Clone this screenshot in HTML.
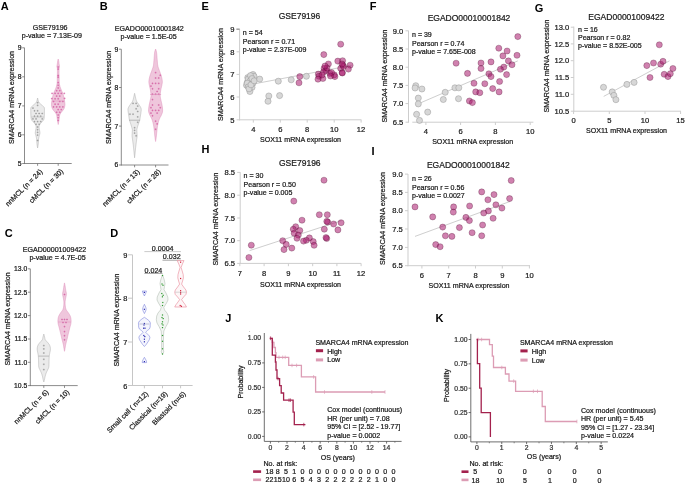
<!DOCTYPE html>
<html><head><meta charset="utf-8"><style>
html,body{margin:0;padding:0;background:#fff;}
svg{display:block;font-family:"Liberation Sans", sans-serif;will-change:transform;}
</style></head><body>
<svg width="685" height="484" viewBox="0 0 685 484">
<rect width="685" height="484" fill="#fff"/>
<text x="0.80" y="9.50" font-size="11" text-anchor="start" font-weight="bold" fill="#000">A</text>
<text x="99.80" y="9.50" font-size="11" text-anchor="start" font-weight="bold" fill="#000">B</text>
<text x="4.80" y="236.90" font-size="11" text-anchor="start" font-weight="bold" fill="#000">C</text>
<text x="110.20" y="237.30" font-size="11" text-anchor="start" font-weight="bold" fill="#000">D</text>
<text x="201.60" y="10.30" font-size="11" text-anchor="start" font-weight="bold" fill="#000">E</text>
<text x="369.80" y="10.30" font-size="11" text-anchor="start" font-weight="bold" fill="#000">F</text>
<text x="534.80" y="11.50" font-size="11" text-anchor="start" font-weight="bold" fill="#000">G</text>
<text x="201.40" y="153.10" font-size="11" text-anchor="start" font-weight="bold" fill="#000">H</text>
<text x="371.40" y="154.90" font-size="11" text-anchor="start" font-weight="bold" fill="#000">I</text>
<text x="225.20" y="321.90" font-size="11" text-anchor="start" font-weight="bold" fill="#000">J</text>
<text x="435.60" y="321.90" font-size="11" text-anchor="start" font-weight="bold" fill="#000">K</text>
<line x1="24.50" y1="47.80" x2="24.50" y2="163.90" stroke="#6e6e6e" stroke-width="0.8"/>
<line x1="24.10" y1="163.50" x2="71.70" y2="163.50" stroke="#6e6e6e" stroke-width="0.8"/>
<line x1="22.20" y1="47.80" x2="24.50" y2="47.80" stroke="#6e6e6e" stroke-width="0.8"/>
<text x="21.50" y="50.20" font-size="6.8" text-anchor="end" fill="#1a1a1a" stroke="#1a1a1a" stroke-width="0.22">9</text>
<line x1="22.20" y1="76.80" x2="24.50" y2="76.80" stroke="#6e6e6e" stroke-width="0.8"/>
<text x="21.50" y="79.20" font-size="6.8" text-anchor="end" fill="#1a1a1a" stroke="#1a1a1a" stroke-width="0.22">8</text>
<line x1="22.20" y1="105.90" x2="24.50" y2="105.90" stroke="#6e6e6e" stroke-width="0.8"/>
<text x="21.50" y="108.30" font-size="6.8" text-anchor="end" fill="#1a1a1a" stroke="#1a1a1a" stroke-width="0.22">7</text>
<line x1="22.20" y1="134.80" x2="24.50" y2="134.80" stroke="#6e6e6e" stroke-width="0.8"/>
<text x="21.50" y="137.20" font-size="6.8" text-anchor="end" fill="#1a1a1a" stroke="#1a1a1a" stroke-width="0.22">6</text>
<line x1="22.20" y1="163.50" x2="24.50" y2="163.50" stroke="#6e6e6e" stroke-width="0.8"/>
<text x="21.50" y="165.90" font-size="6.8" text-anchor="end" fill="#1a1a1a" stroke="#1a1a1a" stroke-width="0.22">5</text>
<line x1="37.60" y1="163.50" x2="37.60" y2="165.80" stroke="#6e6e6e" stroke-width="0.8"/>
<line x1="58.20" y1="163.50" x2="58.20" y2="165.80" stroke="#6e6e6e" stroke-width="0.8"/>
<text x="43.00" y="172.00" font-size="7.1" text-anchor="end" fill="#1a1a1a" stroke="#1a1a1a" stroke-width="0.22" transform="rotate(-45 43.00 172.00)">nnMCL (n = 24)</text>
<text x="63.80" y="171.80" font-size="7.1" text-anchor="end" fill="#1a1a1a" stroke="#1a1a1a" stroke-width="0.22" transform="rotate(-45 63.80 171.80)">cMCL (n = 30)</text>
<text x="14.40" y="97.50" font-size="7.1" text-anchor="middle" fill="#1a1a1a" stroke="#1a1a1a" stroke-width="0.22" transform="rotate(-90 14.40 97.50)">SMARCA4 mRNA expression</text>
<text x="50.20" y="29.80" font-size="7.1" text-anchor="middle" fill="#1a1a1a" stroke="#1a1a1a" stroke-width="0.22">GSE79196</text>
<text x="51.80" y="38.20" font-size="7.1" text-anchor="middle" fill="#1a1a1a" stroke="#1a1a1a" stroke-width="0.22">p-value = 7.13E-09</text>
<path d="M37.60,98.00 L37.66,98.28 L37.75,98.67 L37.85,99.12 L37.96,99.61 L38.08,100.08 L38.20,100.50 L38.31,100.87 L38.41,101.21 L38.52,101.55 L38.65,101.87 L38.81,102.19 L39.00,102.50 L39.24,102.80 L39.52,103.09 L39.83,103.36 L40.15,103.64 L40.48,103.91 L40.80,104.20 L41.13,104.49 L41.47,104.79 L41.82,105.09 L42.16,105.40 L42.49,105.70 L42.80,106.00 L43.10,106.27 L43.39,106.51 L43.67,106.75 L43.92,107.02 L44.14,107.36 L44.30,107.80 L44.40,108.36 L44.44,109.03 L44.45,109.76 L44.43,110.53 L44.41,111.28 L44.40,112.00 L44.40,112.68 L44.40,113.37 L44.39,114.04 L44.37,114.71 L44.34,115.36 L44.30,116.00 L44.26,116.62 L44.22,117.24 L44.17,117.84 L44.09,118.43 L43.97,118.98 L43.80,119.50 L43.55,119.97 L43.24,120.41 L42.89,120.81 L42.52,121.20 L42.15,121.59 L41.80,122.00 L41.45,122.42 L41.09,122.85 L40.72,123.28 L40.37,123.70 L40.06,124.11 L39.80,124.50 L39.60,124.86 L39.44,125.19 L39.31,125.50 L39.22,125.81 L39.15,126.14 L39.10,126.50 L39.08,126.89 L39.09,127.30 L39.12,127.72 L39.18,128.15 L39.24,128.58 L39.30,129.00 L39.37,129.42 L39.46,129.85 L39.56,130.28 L39.65,130.70 L39.74,131.11 L39.80,131.50 L39.85,131.86 L39.89,132.19 L39.93,132.50 L39.94,132.81 L39.93,133.14 L39.90,133.50 L39.83,133.88 L39.72,134.28 L39.59,134.69 L39.46,135.11 L39.32,135.55 L39.20,136.00 L39.09,136.47 L38.98,136.96 L38.87,137.47 L38.77,137.98 L38.68,138.49 L38.60,139.00 L38.54,139.50 L38.51,140.00 L38.48,140.50 L38.46,141.00 L38.43,141.50 L38.40,142.00 L38.36,142.50 L38.31,143.00 L38.27,143.50 L38.22,144.00 L38.16,144.50 L38.10,145.00 L38.02,145.53 L37.93,146.11 L37.83,146.69 L37.74,147.22 L37.66,147.67 L37.60,148.00 L37.60,148.00 L37.54,147.67 L37.46,147.22 L37.37,146.69 L37.27,146.11 L37.18,145.53 L37.10,145.00 L37.04,144.50 L36.98,144.00 L36.93,143.50 L36.89,143.00 L36.84,142.50 L36.80,142.00 L36.77,141.50 L36.74,141.00 L36.72,140.50 L36.69,140.00 L36.66,139.50 L36.60,139.00 L36.52,138.49 L36.43,137.98 L36.33,137.47 L36.22,136.96 L36.11,136.47 L36.00,136.00 L35.88,135.55 L35.74,135.11 L35.61,134.69 L35.48,134.28 L35.37,133.88 L35.30,133.50 L35.27,133.14 L35.26,132.81 L35.27,132.50 L35.31,132.19 L35.35,131.86 L35.40,131.50 L35.46,131.11 L35.55,130.70 L35.64,130.28 L35.74,129.85 L35.83,129.42 L35.90,129.00 L35.96,128.58 L36.02,128.15 L36.08,127.72 L36.11,127.30 L36.12,126.89 L36.10,126.50 L36.05,126.14 L35.98,125.81 L35.89,125.50 L35.76,125.19 L35.60,124.86 L35.40,124.50 L35.14,124.11 L34.83,123.70 L34.48,123.28 L34.11,122.85 L33.75,122.42 L33.40,122.00 L33.05,121.59 L32.68,121.20 L32.31,120.81 L31.96,120.41 L31.65,119.97 L31.40,119.50 L31.23,118.98 L31.11,118.43 L31.03,117.84 L30.98,117.24 L30.94,116.62 L30.90,116.00 L30.86,115.36 L30.83,114.71 L30.81,114.04 L30.80,113.37 L30.80,112.68 L30.80,112.00 L30.79,111.28 L30.77,110.53 L30.75,109.76 L30.76,109.03 L30.80,108.36 L30.90,107.80 L31.06,107.36 L31.28,107.02 L31.53,106.75 L31.81,106.51 L32.10,106.27 L32.40,106.00 L32.71,105.70 L33.04,105.40 L33.38,105.09 L33.73,104.79 L34.07,104.49 L34.40,104.20 L34.72,103.91 L35.05,103.64 L35.38,103.36 L35.68,103.09 L35.96,102.80 L36.20,102.50 L36.39,102.19 L36.55,101.87 L36.68,101.55 L36.79,101.21 L36.89,100.87 L37.00,100.50 L37.12,100.08 L37.24,99.61 L37.35,99.12 L37.45,98.67 L37.54,98.28 L37.60,98.00Z" fill="#ebebeb" stroke="#a9a9a9" stroke-width="0.5"/>
<path d="M58.20,59.00 L58.26,59.21 L58.33,59.48 L58.43,59.81 L58.52,60.19 L58.62,60.59 L58.70,61.00 L58.77,61.45 L58.84,61.94 L58.91,62.47 L58.97,63.00 L59.03,63.52 L59.10,64.00 L59.18,64.45 L59.26,64.89 L59.35,65.31 L59.43,65.72 L59.48,66.12 L59.50,66.50 L59.48,66.84 L59.41,67.15 L59.33,67.44 L59.24,67.74 L59.16,68.09 L59.10,68.50 L59.06,68.98 L59.04,69.50 L59.02,70.06 L59.01,70.67 L59.00,71.31 L59.00,72.00 L59.01,72.75 L59.02,73.56 L59.04,74.41 L59.06,75.28 L59.08,76.15 L59.10,77.00 L59.11,77.86 L59.13,78.76 L59.14,79.66 L59.15,80.52 L59.17,81.31 L59.20,82.00 L59.23,82.55 L59.26,82.97 L59.29,83.33 L59.33,83.66 L59.40,84.04 L59.50,84.50 L59.62,85.04 L59.77,85.62 L59.93,86.24 L60.12,86.89 L60.34,87.58 L60.60,88.30 L60.91,89.07 L61.29,89.90 L61.69,90.76 L62.09,91.64 L62.47,92.53 L62.80,93.40 L63.07,94.26 L63.32,95.13 L63.54,95.99 L63.74,96.86 L63.92,97.73 L64.10,98.60 L64.27,99.50 L64.44,100.43 L64.59,101.36 L64.73,102.25 L64.83,103.08 L64.90,103.80 L64.93,104.40 L64.93,104.90 L64.90,105.33 L64.85,105.71 L64.78,106.10 L64.70,106.50 L64.61,106.92 L64.50,107.33 L64.38,107.74 L64.24,108.13 L64.08,108.52 L63.90,108.90 L63.69,109.27 L63.46,109.63 L63.20,109.98 L62.93,110.32 L62.66,110.66 L62.40,111.00 L62.13,111.34 L61.85,111.67 L61.57,112.01 L61.29,112.34 L61.03,112.67 L60.80,113.00 L60.59,113.33 L60.40,113.66 L60.23,113.99 L60.07,114.32 L59.93,114.66 L59.80,115.00 L59.70,115.35 L59.62,115.70 L59.56,116.05 L59.51,116.41 L59.46,116.80 L59.40,117.20 L59.33,117.64 L59.27,118.10 L59.20,118.58 L59.13,119.07 L59.07,119.54 L59.00,120.00 L58.93,120.44 L58.87,120.87 L58.80,121.30 L58.73,121.71 L58.67,122.12 L58.60,122.50 L58.53,122.89 L58.45,123.28 L58.38,123.66 L58.30,124.00 L58.24,124.29 L58.20,124.50 L58.20,124.50 L58.16,124.29 L58.10,124.00 L58.03,123.66 L57.95,123.28 L57.87,122.89 L57.80,122.50 L57.73,122.12 L57.67,121.71 L57.60,121.30 L57.53,120.87 L57.47,120.44 L57.40,120.00 L57.33,119.54 L57.27,119.07 L57.20,118.58 L57.13,118.10 L57.07,117.64 L57.00,117.20 L56.94,116.80 L56.89,116.41 L56.84,116.05 L56.78,115.70 L56.70,115.35 L56.60,115.00 L56.48,114.66 L56.33,114.32 L56.18,113.99 L56.00,113.66 L55.81,113.33 L55.60,113.00 L55.37,112.67 L55.11,112.34 L54.83,112.01 L54.55,111.67 L54.27,111.34 L54.00,111.00 L53.74,110.66 L53.47,110.32 L53.20,109.98 L52.94,109.63 L52.71,109.27 L52.50,108.90 L52.32,108.52 L52.16,108.13 L52.02,107.74 L51.90,107.33 L51.79,106.92 L51.70,106.50 L51.62,106.10 L51.55,105.71 L51.50,105.33 L51.47,104.90 L51.47,104.40 L51.50,103.80 L51.57,103.08 L51.67,102.25 L51.81,101.36 L51.96,100.43 L52.13,99.50 L52.30,98.60 L52.48,97.73 L52.66,96.86 L52.86,95.99 L53.08,95.13 L53.33,94.26 L53.60,93.40 L53.93,92.53 L54.31,91.64 L54.71,90.76 L55.11,89.90 L55.49,89.07 L55.80,88.30 L56.06,87.58 L56.28,86.89 L56.47,86.24 L56.63,85.62 L56.78,85.04 L56.90,84.50 L57.00,84.04 L57.07,83.66 L57.11,83.33 L57.14,82.97 L57.17,82.55 L57.20,82.00 L57.23,81.31 L57.25,80.52 L57.26,79.66 L57.27,78.76 L57.29,77.86 L57.30,77.00 L57.32,76.15 L57.34,75.28 L57.36,74.41 L57.38,73.56 L57.39,72.75 L57.40,72.00 L57.40,71.31 L57.39,70.67 L57.38,70.06 L57.36,69.50 L57.34,68.98 L57.30,68.50 L57.24,68.09 L57.16,67.74 L57.07,67.44 L56.99,67.15 L56.92,66.84 L56.90,66.50 L56.92,66.12 L56.97,65.72 L57.05,65.31 L57.14,64.89 L57.22,64.45 L57.30,64.00 L57.37,63.52 L57.43,63.00 L57.49,62.47 L57.56,61.94 L57.63,61.45 L57.70,61.00 L57.78,60.59 L57.88,60.19 L57.98,59.81 L58.07,59.48 L58.14,59.21 L58.20,59.00Z" fill="#efc6dc" stroke="#dc8cb8" stroke-width="0.5"/>
<path d="M33.60,121.60h1.8M34.50,120.70v1.8" stroke="#8a8a8a" stroke-width="0.55"/>
<path d="M35.15,118.90h1.8M36.05,118.00v1.8" stroke="#8a8a8a" stroke-width="0.55"/>
<path d="M39.80,116.20h1.8M40.70,115.30v1.8" stroke="#8a8a8a" stroke-width="0.55"/>
<path d="M41.35,118.90h1.8M42.25,118.00v1.8" stroke="#8a8a8a" stroke-width="0.55"/>
<path d="M36.70,105.40h1.8M37.60,104.50v1.8" stroke="#8a8a8a" stroke-width="0.55"/>
<path d="M38.25,124.30h1.8M39.15,123.40v1.8" stroke="#8a8a8a" stroke-width="0.55"/>
<path d="M33.60,116.20h1.8M34.50,115.30v1.8" stroke="#8a8a8a" stroke-width="0.55"/>
<path d="M33.60,110.80h1.8M34.50,109.90v1.8" stroke="#8a8a8a" stroke-width="0.55"/>
<path d="M32.05,108.10h1.8M32.95,107.20v1.8" stroke="#8a8a8a" stroke-width="0.55"/>
<path d="M35.15,113.50h1.8M36.05,112.60v1.8" stroke="#8a8a8a" stroke-width="0.55"/>
<path d="M32.05,118.90h1.8M32.95,118.00v1.8" stroke="#8a8a8a" stroke-width="0.55"/>
<path d="M36.70,121.60h1.8M37.60,120.70v1.8" stroke="#8a8a8a" stroke-width="0.55"/>
<path d="M36.70,110.80h1.8M37.60,109.90v1.8" stroke="#8a8a8a" stroke-width="0.55"/>
<path d="M36.70,129.70h1.8M37.60,128.80v1.8" stroke="#8a8a8a" stroke-width="0.55"/>
<path d="M36.70,116.20h1.8M37.60,115.30v1.8" stroke="#8a8a8a" stroke-width="0.55"/>
<path d="M35.15,124.30h1.8M36.05,123.40v1.8" stroke="#8a8a8a" stroke-width="0.55"/>
<path d="M36.70,127.00h1.8M37.60,126.10v1.8" stroke="#8a8a8a" stroke-width="0.55"/>
<path d="M36.70,135.10h1.8M37.60,134.20v1.8" stroke="#8a8a8a" stroke-width="0.55"/>
<path d="M36.70,132.40h1.8M37.60,131.50v1.8" stroke="#8a8a8a" stroke-width="0.55"/>
<path d="M41.35,113.50h1.8M42.25,112.60v1.8" stroke="#8a8a8a" stroke-width="0.55"/>
<path d="M38.25,113.50h1.8M39.15,112.60v1.8" stroke="#8a8a8a" stroke-width="0.55"/>
<path d="M39.80,121.60h1.8M40.70,120.70v1.8" stroke="#8a8a8a" stroke-width="0.55"/>
<path d="M36.70,102.70h1.8M37.60,101.80v1.8" stroke="#8a8a8a" stroke-width="0.55"/>
<path d="M36.70,140.50h1.8M37.60,139.60v1.8" stroke="#8a8a8a" stroke-width="0.55"/>
<path d="M58.85,106.90h1.8M59.75,106.00v1.8" stroke="#d0509a" stroke-width="0.55"/>
<path d="M60.40,93.40h1.8M61.30,92.50v1.8" stroke="#d0509a" stroke-width="0.55"/>
<path d="M58.85,112.30h1.8M59.75,111.40v1.8" stroke="#d0509a" stroke-width="0.55"/>
<path d="M55.75,90.70h1.8M56.65,89.80v1.8" stroke="#d0509a" stroke-width="0.55"/>
<path d="M54.20,93.40h1.8M55.10,92.50v1.8" stroke="#d0509a" stroke-width="0.55"/>
<path d="M55.75,112.30h1.8M56.65,111.40v1.8" stroke="#d0509a" stroke-width="0.55"/>
<path d="M57.30,88.00h1.8M58.20,87.10v1.8" stroke="#d0509a" stroke-width="0.55"/>
<path d="M58.85,90.70h1.8M59.75,89.80v1.8" stroke="#d0509a" stroke-width="0.55"/>
<path d="M61.95,106.90h1.8M62.85,106.00v1.8" stroke="#d0509a" stroke-width="0.55"/>
<path d="M55.75,106.90h1.8M56.65,106.00v1.8" stroke="#d0509a" stroke-width="0.55"/>
<path d="M52.65,106.90h1.8M53.55,106.00v1.8" stroke="#d0509a" stroke-width="0.55"/>
<path d="M61.95,101.50h1.8M62.85,100.60v1.8" stroke="#d0509a" stroke-width="0.55"/>
<path d="M58.85,101.50h1.8M59.75,100.60v1.8" stroke="#d0509a" stroke-width="0.55"/>
<path d="M58.85,96.10h1.8M59.75,95.20v1.8" stroke="#d0509a" stroke-width="0.55"/>
<path d="M54.20,104.20h1.8M55.10,103.30v1.8" stroke="#d0509a" stroke-width="0.55"/>
<path d="M57.30,115.00h1.8M58.20,114.10v1.8" stroke="#d0509a" stroke-width="0.55"/>
<path d="M57.30,109.60h1.8M58.20,108.70v1.8" stroke="#d0509a" stroke-width="0.55"/>
<path d="M57.30,117.70h1.8M58.20,116.80v1.8" stroke="#d0509a" stroke-width="0.55"/>
<path d="M57.30,85.30h1.8M58.20,84.40v1.8" stroke="#d0509a" stroke-width="0.55"/>
<path d="M55.75,96.10h1.8M56.65,95.20v1.8" stroke="#d0509a" stroke-width="0.55"/>
<path d="M52.65,101.50h1.8M53.55,100.60v1.8" stroke="#d0509a" stroke-width="0.55"/>
<path d="M57.30,98.80h1.8M58.20,97.90v1.8" stroke="#d0509a" stroke-width="0.55"/>
<path d="M57.30,77.20h1.8M58.20,76.30v1.8" stroke="#d0509a" stroke-width="0.55"/>
<path d="M54.20,98.80h1.8M55.10,97.90v1.8" stroke="#d0509a" stroke-width="0.55"/>
<path d="M57.30,69.10h1.8M58.20,68.20v1.8" stroke="#d0509a" stroke-width="0.55"/>
<path d="M57.30,120.40h1.8M58.20,119.50v1.8" stroke="#d0509a" stroke-width="0.55"/>
<path d="M60.40,109.60h1.8M61.30,108.70v1.8" stroke="#d0509a" stroke-width="0.55"/>
<path d="M57.30,104.20h1.8M58.20,103.30v1.8" stroke="#d0509a" stroke-width="0.55"/>
<path d="M57.30,93.40h1.8M58.20,92.50v1.8" stroke="#d0509a" stroke-width="0.55"/>
<path d="M57.30,82.60h1.8M58.20,81.70v1.8" stroke="#d0509a" stroke-width="0.55"/>
<path d="M51.20,93.40h1.8M52.10,92.50v1.8" stroke="#d0509a" stroke-width="0.55"/>
<path d="M63.40,93.40h1.8M64.30,92.50v1.8" stroke="#d0509a" stroke-width="0.55"/>
<path d="M50.90,98.60h1.8M51.80,97.70v1.8" stroke="#d0509a" stroke-width="0.55"/>
<path d="M63.70,98.40h1.8M64.60,97.50v1.8" stroke="#d0509a" stroke-width="0.55"/>
<path d="M57.30,67.00h1.8M58.20,66.10v1.8" stroke="#d0509a" stroke-width="0.55"/>
<path d="M57.30,75.50h1.8M58.20,74.60v1.8" stroke="#d0509a" stroke-width="0.55"/>
<line x1="31.40" y1="117.00" x2="43.80" y2="117.00" stroke="#a9a9a9" stroke-width="0.5"/>
<line x1="52.00" y1="101.00" x2="64.40" y2="101.00" stroke="#dc8cb8" stroke-width="0.5"/>
<line x1="121.30" y1="49.20" x2="121.30" y2="165.40" stroke="#6e6e6e" stroke-width="0.8"/>
<line x1="120.90" y1="165.00" x2="168.50" y2="165.00" stroke="#6e6e6e" stroke-width="0.8"/>
<line x1="119.00" y1="49.20" x2="121.30" y2="49.20" stroke="#6e6e6e" stroke-width="0.8"/>
<text x="118.30" y="51.60" font-size="6.8" text-anchor="end" fill="#1a1a1a" stroke="#1a1a1a" stroke-width="0.22">9</text>
<line x1="119.00" y1="87.50" x2="121.30" y2="87.50" stroke="#6e6e6e" stroke-width="0.8"/>
<text x="118.30" y="89.90" font-size="6.8" text-anchor="end" fill="#1a1a1a" stroke="#1a1a1a" stroke-width="0.22">8</text>
<line x1="119.00" y1="126.10" x2="121.30" y2="126.10" stroke="#6e6e6e" stroke-width="0.8"/>
<text x="118.30" y="128.50" font-size="6.8" text-anchor="end" fill="#1a1a1a" stroke="#1a1a1a" stroke-width="0.22">7</text>
<line x1="119.00" y1="165.00" x2="121.30" y2="165.00" stroke="#6e6e6e" stroke-width="0.8"/>
<text x="118.30" y="167.40" font-size="6.8" text-anchor="end" fill="#1a1a1a" stroke="#1a1a1a" stroke-width="0.22">6</text>
<line x1="134.60" y1="165.00" x2="134.60" y2="167.30" stroke="#6e6e6e" stroke-width="0.8"/>
<line x1="155.60" y1="165.00" x2="155.60" y2="167.30" stroke="#6e6e6e" stroke-width="0.8"/>
<text x="140.10" y="172.20" font-size="7.1" text-anchor="end" fill="#1a1a1a" stroke="#1a1a1a" stroke-width="0.22" transform="rotate(-45 140.10 172.20)">nnMCL (n = 13)</text>
<text x="161.30" y="172.20" font-size="7.1" text-anchor="end" fill="#1a1a1a" stroke="#1a1a1a" stroke-width="0.22" transform="rotate(-45 161.30 172.20)">cMCL (n = 28)</text>
<text x="111.00" y="97.40" font-size="7.1" text-anchor="middle" fill="#1a1a1a" stroke="#1a1a1a" stroke-width="0.22" transform="rotate(-90 111.00 97.40)">SMARCA4 mRNA expression</text>
<text x="149.30" y="30.90" font-size="7.1" text-anchor="middle" fill="#1a1a1a" stroke="#1a1a1a" stroke-width="0.22">EGADO00010001842</text>
<text x="148.60" y="39.30" font-size="7.1" text-anchor="middle" fill="#1a1a1a" stroke="#1a1a1a" stroke-width="0.22">p-value = 1.5E-05</text>
<path d="M134.60,93.30 L134.66,93.59 L134.75,93.99 L134.86,94.46 L134.97,94.98 L135.09,95.50 L135.20,96.00 L135.31,96.49 L135.42,96.99 L135.53,97.51 L135.65,98.02 L135.77,98.52 L135.90,99.00 L136.03,99.46 L136.16,99.90 L136.29,100.34 L136.43,100.76 L136.60,101.18 L136.80,101.60 L137.04,102.01 L137.31,102.41 L137.60,102.81 L137.90,103.20 L138.21,103.60 L138.50,104.00 L138.79,104.41 L139.09,104.83 L139.39,105.24 L139.69,105.66 L139.96,106.08 L140.20,106.50 L140.42,106.91 L140.63,107.31 L140.82,107.72 L140.98,108.13 L141.11,108.55 L141.20,109.00 L141.24,109.46 L141.24,109.93 L141.20,110.41 L141.14,110.91 L141.07,111.44 L141.00,112.00 L140.92,112.61 L140.83,113.27 L140.72,113.95 L140.61,114.64 L140.50,115.33 L140.40,116.00 L140.30,116.65 L140.21,117.30 L140.12,117.95 L140.03,118.59 L139.92,119.20 L139.80,119.80 L139.66,120.37 L139.50,120.92 L139.32,121.45 L139.15,121.97 L138.97,122.49 L138.80,123.00 L138.63,123.50 L138.46,123.99 L138.29,124.47 L138.13,124.96 L137.96,125.46 L137.80,126.00 L137.63,126.58 L137.46,127.20 L137.28,127.83 L137.12,128.47 L136.99,129.10 L136.90,129.70 L136.86,130.27 L136.86,130.83 L136.89,131.38 L136.93,131.91 L136.97,132.45 L137.00,133.00 L137.02,133.55 L137.06,134.09 L137.09,134.63 L137.11,135.17 L137.12,135.73 L137.10,136.30 L137.05,136.88 L136.98,137.47 L136.89,138.08 L136.80,138.69 L136.70,139.33 L136.60,140.00 L136.50,140.70 L136.40,141.44 L136.30,142.20 L136.20,142.97 L136.10,143.74 L136.00,144.50 L135.91,145.26 L135.82,146.02 L135.74,146.78 L135.66,147.54 L135.58,148.28 L135.50,149.00 L135.43,149.69 L135.36,150.34 L135.30,150.98 L135.24,151.63 L135.17,152.29 L135.10,153.00 L135.02,153.81 L134.92,154.72 L134.82,155.65 L134.73,156.53 L134.66,157.27 L134.60,157.80 L134.60,157.80 L134.54,157.27 L134.47,156.53 L134.38,155.65 L134.28,154.72 L134.18,153.81 L134.10,153.00 L134.03,152.29 L133.96,151.63 L133.90,150.98 L133.84,150.34 L133.77,149.69 L133.70,149.00 L133.62,148.28 L133.54,147.54 L133.46,146.78 L133.38,146.02 L133.29,145.26 L133.20,144.50 L133.10,143.74 L133.00,142.97 L132.90,142.20 L132.80,141.44 L132.70,140.70 L132.60,140.00 L132.50,139.33 L132.40,138.69 L132.31,138.08 L132.22,137.47 L132.15,136.88 L132.10,136.30 L132.08,135.73 L132.09,135.17 L132.11,134.63 L132.14,134.09 L132.18,133.55 L132.20,133.00 L132.23,132.45 L132.27,131.91 L132.31,131.38 L132.34,130.83 L132.34,130.27 L132.30,129.70 L132.21,129.10 L132.08,128.47 L131.92,127.83 L131.74,127.20 L131.57,126.58 L131.40,126.00 L131.24,125.46 L131.07,124.96 L130.91,124.47 L130.74,123.99 L130.57,123.50 L130.40,123.00 L130.23,122.49 L130.05,121.97 L129.88,121.45 L129.70,120.92 L129.54,120.37 L129.40,119.80 L129.28,119.20 L129.17,118.59 L129.07,117.95 L128.99,117.30 L128.90,116.65 L128.80,116.00 L128.70,115.33 L128.59,114.64 L128.47,113.95 L128.37,113.27 L128.28,112.61 L128.20,112.00 L128.13,111.44 L128.06,110.91 L128.00,110.41 L127.96,109.93 L127.96,109.46 L128.00,109.00 L128.09,108.55 L128.22,108.13 L128.38,107.72 L128.57,107.31 L128.78,106.91 L129.00,106.50 L129.24,106.08 L129.51,105.66 L129.81,105.24 L130.11,104.83 L130.41,104.41 L130.70,104.00 L130.99,103.60 L131.30,103.20 L131.60,102.81 L131.89,102.41 L132.16,102.01 L132.40,101.60 L132.60,101.18 L132.77,100.76 L132.91,100.34 L133.04,99.90 L133.17,99.46 L133.30,99.00 L133.43,98.52 L133.55,98.02 L133.67,97.51 L133.78,96.99 L133.89,96.49 L134.00,96.00 L134.11,95.50 L134.23,94.98 L134.34,94.46 L134.45,93.99 L134.54,93.59 L134.60,93.30Z" fill="#ebebeb" stroke="#a9a9a9" stroke-width="0.5"/>
<path d="M155.60,49.00 L155.70,49.31 L155.85,49.74 L156.03,50.25 L156.20,50.81 L156.37,51.41 L156.50,52.00 L156.60,52.60 L156.67,53.22 L156.73,53.88 L156.79,54.56 L156.84,55.26 L156.90,56.00 L156.97,56.78 L157.03,57.60 L157.09,58.46 L157.16,59.32 L157.23,60.17 L157.30,61.00 L157.37,61.82 L157.44,62.64 L157.51,63.46 L157.59,64.25 L157.69,65.00 L157.80,65.70 L157.93,66.33 L158.09,66.90 L158.25,67.43 L158.43,67.94 L158.61,68.45 L158.80,69.00 L159.00,69.57 L159.21,70.15 L159.44,70.74 L159.66,71.33 L159.89,71.91 L160.10,72.50 L160.31,73.09 L160.53,73.69 L160.74,74.28 L160.94,74.87 L161.13,75.45 L161.30,76.00 L161.45,76.53 L161.59,77.03 L161.71,77.52 L161.81,78.00 L161.91,78.49 L162.00,79.00 L162.08,79.51 L162.16,80.03 L162.23,80.55 L162.28,81.08 L162.31,81.63 L162.30,82.20 L162.26,82.80 L162.18,83.41 L162.07,84.05 L161.96,84.70 L161.83,85.35 L161.70,86.00 L161.56,86.64 L161.41,87.26 L161.25,87.89 L161.09,88.54 L160.94,89.24 L160.80,90.00 L160.67,90.85 L160.53,91.79 L160.40,92.78 L160.29,93.76 L160.22,94.72 L160.20,95.60 L160.24,96.40 L160.32,97.13 L160.44,97.84 L160.59,98.53 L160.75,99.25 L160.90,100.00 L161.07,100.79 L161.26,101.59 L161.46,102.40 L161.66,103.24 L161.84,104.10 L162.00,105.00 L162.15,105.97 L162.30,107.00 L162.44,108.06 L162.55,109.11 L162.61,110.10 L162.60,111.00 L162.51,111.79 L162.36,112.50 L162.15,113.16 L161.91,113.78 L161.66,114.39 L161.40,115.00 L161.13,115.61 L160.82,116.20 L160.50,116.78 L160.18,117.35 L159.87,117.92 L159.60,118.50 L159.36,119.08 L159.14,119.66 L158.94,120.24 L158.75,120.83 L158.57,121.41 L158.40,122.00 L158.24,122.58 L158.10,123.16 L157.96,123.74 L157.84,124.34 L157.72,124.95 L157.60,125.60 L157.49,126.28 L157.38,126.99 L157.28,127.71 L157.19,128.46 L157.09,129.22 L157.00,130.00 L156.91,130.81 L156.83,131.66 L156.74,132.53 L156.66,133.39 L156.58,134.22 L156.50,135.00 L156.42,135.74 L156.33,136.46 L156.24,137.16 L156.16,137.81 L156.08,138.43 L156.00,139.00 L155.92,139.53 L155.84,140.04 L155.77,140.50 L155.70,140.91 L155.64,141.25 L155.60,141.50 L155.60,141.50 L155.56,141.25 L155.50,140.91 L155.43,140.50 L155.36,140.04 L155.28,139.53 L155.20,139.00 L155.12,138.43 L155.04,137.81 L154.96,137.16 L154.87,136.46 L154.78,135.74 L154.70,135.00 L154.62,134.22 L154.54,133.39 L154.46,132.53 L154.37,131.66 L154.29,130.81 L154.20,130.00 L154.11,129.22 L154.01,128.46 L153.92,127.71 L153.82,126.99 L153.71,126.28 L153.60,125.60 L153.48,124.95 L153.36,124.34 L153.24,123.74 L153.10,123.16 L152.96,122.58 L152.80,122.00 L152.63,121.41 L152.45,120.83 L152.26,120.24 L152.06,119.66 L151.84,119.08 L151.60,118.50 L151.33,117.92 L151.02,117.35 L150.70,116.78 L150.38,116.20 L150.07,115.61 L149.80,115.00 L149.54,114.39 L149.29,113.78 L149.05,113.16 L148.84,112.50 L148.69,111.79 L148.60,111.00 L148.59,110.10 L148.65,109.11 L148.76,108.06 L148.90,107.00 L149.05,105.97 L149.20,105.00 L149.36,104.10 L149.54,103.24 L149.74,102.40 L149.94,101.59 L150.13,100.79 L150.30,100.00 L150.45,99.25 L150.61,98.53 L150.76,97.84 L150.88,97.13 L150.96,96.40 L151.00,95.60 L150.98,94.72 L150.91,93.76 L150.80,92.78 L150.67,91.79 L150.53,90.85 L150.40,90.00 L150.26,89.24 L150.11,88.54 L149.95,87.89 L149.79,87.26 L149.64,86.64 L149.50,86.00 L149.37,85.35 L149.24,84.70 L149.12,84.05 L149.02,83.41 L148.94,82.80 L148.90,82.20 L148.89,81.63 L148.92,81.08 L148.97,80.55 L149.04,80.03 L149.12,79.51 L149.20,79.00 L149.29,78.49 L149.39,78.00 L149.49,77.52 L149.61,77.03 L149.75,76.53 L149.90,76.00 L150.07,75.45 L150.26,74.87 L150.46,74.28 L150.67,73.69 L150.89,73.09 L151.10,72.50 L151.31,71.91 L151.54,71.33 L151.76,70.74 L151.99,70.15 L152.20,69.57 L152.40,69.00 L152.59,68.45 L152.77,67.94 L152.95,67.43 L153.11,66.90 L153.27,66.33 L153.40,65.70 L153.51,65.00 L153.61,64.25 L153.69,63.46 L153.76,62.64 L153.83,61.82 L153.90,61.00 L153.97,60.17 L154.04,59.32 L154.11,58.46 L154.17,57.60 L154.23,56.78 L154.30,56.00 L154.36,55.26 L154.41,54.56 L154.47,53.88 L154.53,53.22 L154.60,52.60 L154.70,52.00 L154.83,51.41 L155.00,50.81 L155.17,50.25 L155.35,49.74 L155.50,49.31 L155.60,49.00Z" fill="#efc6dc" stroke="#dc8cb8" stroke-width="0.5"/>
<path d="M136.80,116.90h1.8M137.70,116.00v1.8" stroke="#8a8a8a" stroke-width="0.55"/>
<path d="M129.05,114.20h1.8M129.95,113.30v1.8" stroke="#8a8a8a" stroke-width="0.55"/>
<path d="M135.25,135.80h1.8M136.15,134.90v1.8" stroke="#8a8a8a" stroke-width="0.55"/>
<path d="M133.70,130.40h1.8M134.60,129.50v1.8" stroke="#8a8a8a" stroke-width="0.55"/>
<path d="M133.70,127.70h1.8M134.60,126.80v1.8" stroke="#8a8a8a" stroke-width="0.55"/>
<path d="M135.25,103.40h1.8M136.15,102.50v1.8" stroke="#8a8a8a" stroke-width="0.55"/>
<path d="M133.70,133.10h1.8M134.60,132.20v1.8" stroke="#8a8a8a" stroke-width="0.55"/>
<path d="M136.80,122.30h1.8M137.70,121.40v1.8" stroke="#8a8a8a" stroke-width="0.55"/>
<path d="M132.15,103.40h1.8M133.05,102.50v1.8" stroke="#8a8a8a" stroke-width="0.55"/>
<path d="M132.15,114.20h1.8M133.05,113.30v1.8" stroke="#8a8a8a" stroke-width="0.55"/>
<path d="M136.80,111.50h1.8M137.70,110.60v1.8" stroke="#8a8a8a" stroke-width="0.55"/>
<path d="M135.25,108.80h1.8M136.15,107.90v1.8" stroke="#8a8a8a" stroke-width="0.55"/>
<path d="M136.80,106.10h1.8M137.70,105.20v1.8" stroke="#8a8a8a" stroke-width="0.55"/>
<path d="M151.60,94.20h1.8M152.50,93.30v1.8" stroke="#d0509a" stroke-width="0.55"/>
<path d="M157.80,78.00h1.8M158.70,77.10v1.8" stroke="#d0509a" stroke-width="0.55"/>
<path d="M151.60,83.40h1.8M152.50,82.50v1.8" stroke="#d0509a" stroke-width="0.55"/>
<path d="M154.70,110.40h1.8M155.60,109.50v1.8" stroke="#d0509a" stroke-width="0.55"/>
<path d="M154.70,78.00h1.8M155.60,77.10v1.8" stroke="#d0509a" stroke-width="0.55"/>
<path d="M151.60,99.60h1.8M152.50,98.70v1.8" stroke="#d0509a" stroke-width="0.55"/>
<path d="M157.80,83.40h1.8M158.70,82.50v1.8" stroke="#d0509a" stroke-width="0.55"/>
<path d="M156.25,113.10h1.8M157.15,112.20v1.8" stroke="#d0509a" stroke-width="0.55"/>
<path d="M151.60,115.80h1.8M152.50,114.90v1.8" stroke="#d0509a" stroke-width="0.55"/>
<path d="M150.05,113.10h1.8M150.95,112.20v1.8" stroke="#d0509a" stroke-width="0.55"/>
<path d="M157.80,105.00h1.8M158.70,104.10v1.8" stroke="#d0509a" stroke-width="0.55"/>
<path d="M157.80,110.40h1.8M158.70,109.50v1.8" stroke="#d0509a" stroke-width="0.55"/>
<path d="M150.05,86.10h1.8M150.95,85.20v1.8" stroke="#d0509a" stroke-width="0.55"/>
<path d="M156.25,123.90h1.8M157.15,123.00v1.8" stroke="#d0509a" stroke-width="0.55"/>
<path d="M150.05,107.70h1.8M150.95,106.80v1.8" stroke="#d0509a" stroke-width="0.55"/>
<path d="M154.70,72.60h1.8M155.60,71.70v1.8" stroke="#d0509a" stroke-width="0.55"/>
<path d="M154.70,129.30h1.8M155.60,128.40v1.8" stroke="#d0509a" stroke-width="0.55"/>
<path d="M157.80,88.80h1.8M158.70,87.90v1.8" stroke="#d0509a" stroke-width="0.55"/>
<path d="M154.70,121.20h1.8M155.60,120.30v1.8" stroke="#d0509a" stroke-width="0.55"/>
<path d="M159.35,107.70h1.8M160.25,106.80v1.8" stroke="#d0509a" stroke-width="0.55"/>
<path d="M159.35,75.30h1.8M160.25,74.40v1.8" stroke="#d0509a" stroke-width="0.55"/>
<path d="M154.70,94.20h1.8M155.60,93.30v1.8" stroke="#d0509a" stroke-width="0.55"/>
<path d="M157.80,94.20h1.8M158.70,93.30v1.8" stroke="#d0509a" stroke-width="0.55"/>
<path d="M151.60,88.80h1.8M152.50,87.90v1.8" stroke="#d0509a" stroke-width="0.55"/>
<path d="M154.70,83.40h1.8M155.60,82.50v1.8" stroke="#d0509a" stroke-width="0.55"/>
<path d="M151.60,110.40h1.8M152.50,109.50v1.8" stroke="#d0509a" stroke-width="0.55"/>
<path d="M151.60,105.00h1.8M152.50,104.10v1.8" stroke="#d0509a" stroke-width="0.55"/>
<path d="M156.25,91.50h1.8M157.15,90.60v1.8" stroke="#d0509a" stroke-width="0.55"/>
<line x1="129.10" y1="120.20" x2="140.10" y2="120.20" stroke="#999" stroke-width="0.6"/>
<line x1="150.10" y1="94.50" x2="161.10" y2="94.50" stroke="#dc8cb8" stroke-width="0.6"/>
<line x1="30.30" y1="268.80" x2="30.30" y2="386.00" stroke="#6e6e6e" stroke-width="0.8"/>
<line x1="29.90" y1="385.60" x2="77.70" y2="385.60" stroke="#6e6e6e" stroke-width="0.8"/>
<line x1="28.00" y1="268.80" x2="30.30" y2="268.80" stroke="#6e6e6e" stroke-width="0.8"/>
<text x="27.30" y="271.20" font-size="6.8" text-anchor="end" fill="#1a1a1a" stroke="#1a1a1a" stroke-width="0.22">13.0</text>
<line x1="28.00" y1="292.20" x2="30.30" y2="292.20" stroke="#6e6e6e" stroke-width="0.8"/>
<text x="27.30" y="294.60" font-size="6.8" text-anchor="end" fill="#1a1a1a" stroke="#1a1a1a" stroke-width="0.22">12.5</text>
<line x1="28.00" y1="315.60" x2="30.30" y2="315.60" stroke="#6e6e6e" stroke-width="0.8"/>
<text x="27.30" y="318.00" font-size="6.8" text-anchor="end" fill="#1a1a1a" stroke="#1a1a1a" stroke-width="0.22">12.0</text>
<line x1="28.00" y1="339.00" x2="30.30" y2="339.00" stroke="#6e6e6e" stroke-width="0.8"/>
<text x="27.30" y="341.40" font-size="6.8" text-anchor="end" fill="#1a1a1a" stroke="#1a1a1a" stroke-width="0.22">11.5</text>
<line x1="28.00" y1="362.30" x2="30.30" y2="362.30" stroke="#6e6e6e" stroke-width="0.8"/>
<text x="27.30" y="364.70" font-size="6.8" text-anchor="end" fill="#1a1a1a" stroke="#1a1a1a" stroke-width="0.22">11.0</text>
<line x1="28.00" y1="385.60" x2="30.30" y2="385.60" stroke="#6e6e6e" stroke-width="0.8"/>
<text x="27.30" y="388.00" font-size="6.8" text-anchor="end" fill="#1a1a1a" stroke="#1a1a1a" stroke-width="0.22">10.5</text>
<line x1="43.80" y1="385.60" x2="43.80" y2="387.90" stroke="#6e6e6e" stroke-width="0.8"/>
<line x1="64.50" y1="385.60" x2="64.50" y2="387.90" stroke="#6e6e6e" stroke-width="0.8"/>
<text x="48.90" y="392.50" font-size="7.1" text-anchor="end" fill="#1a1a1a" stroke="#1a1a1a" stroke-width="0.22" transform="rotate(-45 48.90 392.50)">nnMCL (n = 6)</text>
<text x="69.70" y="392.50" font-size="7.1" text-anchor="end" fill="#1a1a1a" stroke="#1a1a1a" stroke-width="0.22" transform="rotate(-45 69.70 392.50)">cMCL (n = 10)</text>
<text x="10.00" y="318.90" font-size="7.1" text-anchor="middle" fill="#1a1a1a" stroke="#1a1a1a" stroke-width="0.22" transform="rotate(-90 10.00 318.90)">SMARCA4 mRNA expression</text>
<text x="54.50" y="251.60" font-size="7.1" text-anchor="middle" fill="#1a1a1a" stroke="#1a1a1a" stroke-width="0.22">EGAD00001009422</text>
<text x="57.50" y="260.00" font-size="7.1" text-anchor="middle" fill="#1a1a1a" stroke="#1a1a1a" stroke-width="0.22">p-value = 4.7E-05</text>
<path d="M43.80,334.00 L43.89,334.33 L44.01,334.79 L44.16,335.32 L44.31,335.90 L44.46,336.48 L44.60,337.00 L44.71,337.49 L44.79,337.97 L44.88,338.45 L44.97,338.92 L45.11,339.37 L45.30,339.80 L45.56,340.19 L45.87,340.56 L46.21,340.90 L46.58,341.24 L46.95,341.61 L47.30,342.00 L47.66,342.43 L48.04,342.89 L48.42,343.37 L48.79,343.85 L49.12,344.33 L49.40,344.80 L49.63,345.25 L49.82,345.70 L49.98,346.14 L50.11,346.58 L50.22,347.03 L50.30,347.50 L50.36,347.98 L50.39,348.48 L50.39,348.98 L50.38,349.49 L50.35,350.00 L50.30,350.50 L50.23,350.99 L50.14,351.48 L50.03,351.97 L49.91,352.46 L49.80,352.97 L49.70,353.50 L49.61,354.04 L49.51,354.57 L49.42,355.12 L49.34,355.70 L49.26,356.32 L49.20,357.00 L49.15,357.75 L49.11,358.56 L49.08,359.41 L49.06,360.28 L49.03,361.15 L49.00,362.00 L48.98,362.86 L48.97,363.74 L48.96,364.62 L48.94,365.48 L48.89,366.28 L48.80,367.00 L48.66,367.62 L48.48,368.15 L48.27,368.62 L48.05,369.07 L47.82,369.52 L47.60,370.00 L47.37,370.50 L47.13,370.99 L46.89,371.49 L46.64,371.99 L46.41,372.49 L46.20,373.00 L46.01,373.53 L45.82,374.07 L45.65,374.61 L45.49,375.16 L45.34,375.69 L45.20,376.20 L45.08,376.69 L44.98,377.16 L44.89,377.61 L44.80,378.07 L44.71,378.53 L44.60,379.00 L44.47,379.52 L44.32,380.10 L44.16,380.68 L44.01,381.21 L43.89,381.67 L43.80,382.00 L43.80,382.00 L43.71,381.67 L43.59,381.21 L43.44,380.68 L43.28,380.10 L43.13,379.52 L43.00,379.00 L42.89,378.53 L42.80,378.07 L42.71,377.61 L42.62,377.16 L42.52,376.69 L42.40,376.20 L42.26,375.69 L42.11,375.16 L41.95,374.61 L41.78,374.07 L41.59,373.53 L41.40,373.00 L41.19,372.49 L40.96,371.99 L40.71,371.49 L40.47,370.99 L40.23,370.50 L40.00,370.00 L39.78,369.52 L39.55,369.07 L39.32,368.62 L39.12,368.15 L38.94,367.62 L38.80,367.00 L38.71,366.28 L38.66,365.48 L38.64,364.62 L38.63,363.74 L38.62,362.86 L38.60,362.00 L38.57,361.15 L38.54,360.28 L38.52,359.41 L38.49,358.56 L38.45,357.75 L38.40,357.00 L38.34,356.32 L38.26,355.70 L38.17,355.12 L38.09,354.57 L37.99,354.04 L37.90,353.50 L37.80,352.97 L37.69,352.46 L37.57,351.97 L37.46,351.48 L37.37,350.99 L37.30,350.50 L37.25,350.00 L37.22,349.49 L37.21,348.98 L37.21,348.48 L37.24,347.98 L37.30,347.50 L37.38,347.03 L37.49,346.58 L37.62,346.14 L37.78,345.70 L37.97,345.25 L38.20,344.80 L38.48,344.33 L38.81,343.85 L39.18,343.37 L39.56,342.89 L39.94,342.43 L40.30,342.00 L40.65,341.61 L41.02,341.24 L41.39,340.90 L41.73,340.56 L42.04,340.19 L42.30,339.80 L42.49,339.37 L42.63,338.92 L42.72,338.45 L42.81,337.97 L42.89,337.49 L43.00,337.00 L43.14,336.48 L43.29,335.90 L43.44,335.32 L43.59,334.79 L43.71,334.33 L43.80,334.00Z" fill="#ebebeb" stroke="#a9a9a9" stroke-width="0.5"/>
<path d="M64.50,282.90 L64.57,283.23 L64.66,283.67 L64.76,284.20 L64.88,284.79 L64.99,285.40 L65.10,286.00 L65.20,286.61 L65.30,287.27 L65.39,287.94 L65.49,288.63 L65.59,289.32 L65.70,290.00 L65.83,290.67 L65.98,291.33 L66.13,292.00 L66.27,292.67 L66.36,293.33 L66.40,294.00 L66.36,294.67 L66.27,295.33 L66.13,296.00 L65.98,296.67 L65.83,297.33 L65.70,298.00 L65.58,298.67 L65.46,299.33 L65.34,300.00 L65.24,300.67 L65.15,301.33 L65.10,302.00 L65.08,302.68 L65.09,303.37 L65.12,304.06 L65.17,304.74 L65.23,305.39 L65.30,306.00 L65.37,306.57 L65.45,307.11 L65.54,307.62 L65.65,308.11 L65.77,308.57 L65.90,309.00 L66.05,309.39 L66.21,309.74 L66.39,310.06 L66.59,310.37 L66.79,310.68 L67.00,311.00 L67.23,311.33 L67.47,311.65 L67.72,311.97 L67.99,312.30 L68.25,312.64 L68.50,313.00 L68.76,313.39 L69.03,313.80 L69.29,314.22 L69.55,314.65 L69.79,315.08 L70.00,315.50 L70.18,315.91 L70.34,316.31 L70.47,316.72 L70.60,317.13 L70.70,317.55 L70.80,318.00 L70.89,318.47 L70.96,318.96 L71.02,319.47 L71.06,319.98 L71.09,320.49 L71.10,321.00 L71.09,321.50 L71.06,322.00 L71.02,322.50 L70.96,323.00 L70.89,323.50 L70.80,324.00 L70.70,324.49 L70.58,324.96 L70.44,325.44 L70.30,325.93 L70.15,326.44 L70.00,327.00 L69.84,327.61 L69.68,328.26 L69.51,328.94 L69.34,329.63 L69.17,330.32 L69.00,331.00 L68.83,331.67 L68.66,332.33 L68.49,333.00 L68.33,333.67 L68.16,334.33 L68.00,335.00 L67.84,335.68 L67.69,336.37 L67.54,337.06 L67.39,337.74 L67.24,338.39 L67.10,339.00 L66.96,339.56 L66.82,340.07 L66.69,340.56 L66.56,341.04 L66.43,341.51 L66.30,342.00 L66.18,342.50 L66.05,343.00 L65.93,343.50 L65.81,344.00 L65.70,344.50 L65.60,345.00 L65.51,345.50 L65.42,345.99 L65.34,346.48 L65.27,346.98 L65.19,347.48 L65.10,348.00 L65.00,348.57 L64.89,349.20 L64.77,349.84 L64.66,350.43 L64.57,350.94 L64.50,351.30 L64.50,351.30 L64.43,350.94 L64.34,350.43 L64.23,349.84 L64.11,349.20 L64.00,348.57 L63.90,348.00 L63.81,347.48 L63.73,346.98 L63.66,346.48 L63.58,345.99 L63.49,345.50 L63.40,345.00 L63.30,344.50 L63.19,344.00 L63.07,343.50 L62.95,343.00 L62.82,342.50 L62.70,342.00 L62.57,341.51 L62.44,341.04 L62.31,340.56 L62.18,340.07 L62.04,339.56 L61.90,339.00 L61.76,338.39 L61.61,337.74 L61.46,337.06 L61.31,336.37 L61.16,335.68 L61.00,335.00 L60.84,334.33 L60.67,333.67 L60.51,333.00 L60.34,332.33 L60.17,331.67 L60.00,331.00 L59.83,330.32 L59.66,329.63 L59.49,328.94 L59.32,328.26 L59.16,327.61 L59.00,327.00 L58.85,326.44 L58.70,325.93 L58.56,325.44 L58.42,324.96 L58.30,324.49 L58.20,324.00 L58.11,323.50 L58.04,323.00 L57.98,322.50 L57.94,322.00 L57.91,321.50 L57.90,321.00 L57.91,320.49 L57.94,319.98 L57.98,319.47 L58.04,318.96 L58.11,318.47 L58.20,318.00 L58.30,317.55 L58.40,317.13 L58.52,316.72 L58.66,316.31 L58.82,315.91 L59.00,315.50 L59.21,315.08 L59.45,314.65 L59.71,314.22 L59.97,313.80 L60.24,313.39 L60.50,313.00 L60.75,312.64 L61.01,312.30 L61.27,311.97 L61.53,311.65 L61.77,311.33 L62.00,311.00 L62.21,310.68 L62.41,310.37 L62.61,310.06 L62.79,309.74 L62.95,309.39 L63.10,309.00 L63.23,308.57 L63.35,308.11 L63.46,307.62 L63.55,307.11 L63.63,306.57 L63.70,306.00 L63.77,305.39 L63.83,304.74 L63.88,304.06 L63.91,303.37 L63.92,302.68 L63.90,302.00 L63.85,301.33 L63.76,300.67 L63.66,300.00 L63.54,299.33 L63.42,298.67 L63.30,298.00 L63.17,297.33 L63.02,296.67 L62.87,296.00 L62.73,295.33 L62.64,294.67 L62.60,294.00 L62.64,293.33 L62.73,292.67 L62.87,292.00 L63.02,291.33 L63.17,290.67 L63.30,290.00 L63.41,289.32 L63.51,288.63 L63.61,287.94 L63.70,287.27 L63.80,286.61 L63.90,286.00 L64.01,285.40 L64.12,284.79 L64.24,284.20 L64.34,283.67 L64.43,283.23 L64.50,282.90Z" fill="#efc6dc" stroke="#dc8cb8" stroke-width="0.5"/>
<path d="M42.90,345.60h1.8M43.80,344.70v1.8" stroke="#8a8a8a" stroke-width="0.55"/>
<path d="M42.90,348.90h1.8M43.80,348.00v1.8" stroke="#8a8a8a" stroke-width="0.55"/>
<path d="M42.90,353.00h1.8M43.80,352.10v1.8" stroke="#8a8a8a" stroke-width="0.55"/>
<path d="M42.90,359.30h1.8M43.80,358.40v1.8" stroke="#8a8a8a" stroke-width="0.55"/>
<path d="M42.90,364.30h1.8M43.80,363.40v1.8" stroke="#8a8a8a" stroke-width="0.55"/>
<path d="M42.90,369.60h1.8M43.80,368.70v1.8" stroke="#8a8a8a" stroke-width="0.55"/>
<path d="M63.60,294.50h1.8M64.50,293.60v1.8" stroke="#d0509a" stroke-width="0.55"/>
<path d="M61.10,319.50h1.8M62.00,318.60v1.8" stroke="#d0509a" stroke-width="0.55"/>
<path d="M63.60,319.50h1.8M64.50,318.60v1.8" stroke="#d0509a" stroke-width="0.55"/>
<path d="M66.10,319.50h1.8M67.00,318.60v1.8" stroke="#d0509a" stroke-width="0.55"/>
<path d="M62.10,322.50h1.8M63.00,321.60v1.8" stroke="#d0509a" stroke-width="0.55"/>
<path d="M65.10,322.50h1.8M66.00,321.60v1.8" stroke="#d0509a" stroke-width="0.55"/>
<path d="M63.60,326.60h1.8M64.50,325.70v1.8" stroke="#d0509a" stroke-width="0.55"/>
<path d="M63.60,331.60h1.8M64.50,330.70v1.8" stroke="#d0509a" stroke-width="0.55"/>
<path d="M63.60,335.70h1.8M64.50,334.80v1.8" stroke="#d0509a" stroke-width="0.55"/>
<path d="M63.60,339.80h1.8M64.50,338.90v1.8" stroke="#d0509a" stroke-width="0.55"/>
<line x1="38.50" y1="356.10" x2="49.10" y2="356.10" stroke="#999" stroke-width="0.6"/>
<line x1="58.30" y1="322.00" x2="70.70" y2="322.00" stroke="#dc8cb8" stroke-width="0.5"/>
<line x1="132.50" y1="254.80" x2="132.50" y2="385.50" stroke="#c6c6c6" stroke-width="1"/>
<line x1="132.00" y1="385.50" x2="192.60" y2="385.50" stroke="#c6c6c6" stroke-width="1"/>
<line x1="128.00" y1="254.80" x2="132.50" y2="254.80" stroke="#c6c6c6" stroke-width="1"/>
<text x="127.40" y="257.90" font-size="7.4" text-anchor="end" fill="#222" stroke="#222" stroke-width="0.22">9</text>
<line x1="128.00" y1="298.20" x2="132.50" y2="298.20" stroke="#c6c6c6" stroke-width="1"/>
<text x="127.40" y="301.30" font-size="7.4" text-anchor="end" fill="#222" stroke="#222" stroke-width="0.22">8</text>
<line x1="128.00" y1="342.00" x2="132.50" y2="342.00" stroke="#c6c6c6" stroke-width="1"/>
<text x="127.40" y="345.10" font-size="7.4" text-anchor="end" fill="#222" stroke="#222" stroke-width="0.22">7</text>
<line x1="128.00" y1="385.50" x2="132.50" y2="385.50" stroke="#c6c6c6" stroke-width="1"/>
<text x="127.40" y="388.60" font-size="7.4" text-anchor="end" fill="#222" stroke="#222" stroke-width="0.22">6</text>
<line x1="144.40" y1="385.50" x2="144.40" y2="388.30" stroke="#c6c6c6" stroke-width="1"/>
<line x1="162.50" y1="385.50" x2="162.50" y2="388.30" stroke="#c6c6c6" stroke-width="1"/>
<line x1="180.60" y1="385.50" x2="180.60" y2="388.30" stroke="#c6c6c6" stroke-width="1"/>
<text x="148.60" y="394.30" font-size="7.1" text-anchor="end" fill="#1a1a1a" stroke="#1a1a1a" stroke-width="0.22" transform="rotate(-45 148.60 394.30)">Small cell ( n=12)</text>
<text x="168.00" y="394.30" font-size="7.1" text-anchor="end" fill="#1a1a1a" stroke="#1a1a1a" stroke-width="0.22" transform="rotate(-45 168.00 394.30)">Classical (n=19)</text>
<text x="186.10" y="394.30" font-size="7.1" text-anchor="end" fill="#1a1a1a" stroke="#1a1a1a" stroke-width="0.22" transform="rotate(-45 186.10 394.30)">Blastoid (n=6)</text>
<text x="119.40" y="320.00" font-size="7.1" text-anchor="middle" fill="#1a1a1a" stroke="#1a1a1a" stroke-width="0.22" transform="rotate(-90 119.40 320.00)">SMARCA4 mRNA expression</text>
<line x1="144.40" y1="251.60" x2="181.00" y2="251.60" stroke="#c4c4c4" stroke-width="0.9"/>
<text x="162.70" y="250.70" font-size="7.1" text-anchor="middle" fill="#1a1a1a" stroke="#1a1a1a" stroke-width="0.22">0.0004</text>
<line x1="162.50" y1="260.20" x2="181.00" y2="260.20" stroke="#9a9a9a" stroke-width="0.9"/>
<text x="171.75" y="259.30" font-size="7.1" text-anchor="middle" fill="#1a1a1a" stroke="#1a1a1a" stroke-width="0.22">0.032</text>
<line x1="144.40" y1="273.40" x2="162.50" y2="273.40" stroke="#9a9a9a" stroke-width="0.9"/>
<text x="153.45" y="272.50" font-size="7.1" text-anchor="middle" fill="#1a1a1a" stroke="#1a1a1a" stroke-width="0.22">0.024</text>
<path d="M146.50,291.00 L145.60,293.50 L144.40,296.00 L144.40,296.00 L143.20,293.50 L142.30,291.00Z" fill="#f4f5fd" stroke="#6a72d6" stroke-width="0.5"/>
<path d="M144.40,304.30 L145.70,307.00 L146.20,309.00 L145.70,311.00 L144.40,313.60 L144.40,313.60 L143.10,311.00 L142.60,309.00 L143.10,307.00 L144.40,304.30Z" fill="#f4f5fd" stroke="#6a72d6" stroke-width="0.5"/>
<path d="M144.40,317.30 L146.90,319.00 L149.40,321.00 L150.40,323.00 L150.20,325.00 L150.20,327.00 L149.40,329.00 L147.40,330.50 L145.60,332.20 L147.40,334.00 L149.40,336.00 L149.90,337.50 L149.40,339.50 L147.90,342.00 L146.20,344.50 L144.40,346.50 L144.40,346.50 L142.60,344.50 L140.90,342.00 L139.40,339.50 L138.90,337.50 L139.40,336.00 L141.40,334.00 L143.20,332.20 L141.40,330.50 L139.40,329.00 L138.60,327.00 L138.60,325.00 L138.40,323.00 L139.40,321.00 L141.90,319.00 L144.40,317.30Z" fill="#f4f5fd" stroke="#6a72d6" stroke-width="0.5"/>
<path d="M144.40,357.30 L145.40,359.00 L146.40,361.00 L146.60,362.60 L142.20,362.60 L142.40,361.00 L143.40,359.00 L144.40,357.30Z" fill="#f4f5fd" stroke="#6a72d6" stroke-width="0.5"/>
<rect x="143.80" y="291.80" width="1.2" height="1.2" fill="#2a2ab0"/>
<rect x="143.80" y="308.70" width="1.2" height="1.2" fill="#2a2ab0"/>
<rect x="143.80" y="322.90" width="1.2" height="1.2" fill="#2a2ab0"/>
<rect x="143.40" y="324.40" width="1.2" height="1.2" fill="#2a2ab0"/>
<rect x="143.00" y="327.60" width="1.2" height="1.2" fill="#2a2ab0"/>
<rect x="144.40" y="327.60" width="1.2" height="1.2" fill="#2a2ab0"/>
<rect x="143.20" y="334.90" width="1.2" height="1.2" fill="#2a2ab0"/>
<rect x="144.20" y="336.00" width="1.2" height="1.2" fill="#2a2ab0"/>
<rect x="143.80" y="338.60" width="1.2" height="1.2" fill="#2a2ab0"/>
<rect x="143.80" y="341.20" width="1.2" height="1.2" fill="#2a2ab0"/>
<rect x="143.80" y="361.00" width="1.2" height="1.2" fill="#2a2ab0"/>
<line x1="139.50" y1="324.00" x2="149.30" y2="324.00" stroke="#8a8fb0" stroke-width="0.5"/>
<path d="M162.50,274.80 L163.30,277.00 L164.30,280.00 L165.00,283.50 L164.50,286.50 L164.00,289.70 L166.00,293.00 L167.80,297.00 L168.00,300.00 L166.50,303.00 L163.80,307.40 L164.50,310.00 L167.00,313.00 L168.30,316.00 L168.70,319.80 L168.00,323.00 L166.00,326.50 L163.80,331.00 L163.50,336.00 L163.40,341.00 L163.40,346.00 L163.40,349.60 L163.80,352.00 L162.50,354.40 L162.50,354.40 L161.20,352.00 L161.60,349.60 L161.60,346.00 L161.60,341.00 L161.50,336.00 L161.20,331.00 L159.00,326.50 L157.00,323.00 L156.30,319.80 L156.70,316.00 L158.00,313.00 L160.50,310.00 L161.20,307.40 L158.50,303.00 L157.00,300.00 L157.20,297.00 L159.00,293.00 L161.00,289.70 L160.50,286.50 L160.00,283.50 L160.70,280.00 L161.70,277.00 L162.50,274.80Z" fill="#f2f5f2" stroke="#a8b4a8" stroke-width="0.5"/>
<rect x="161.90" y="274.90" width="1.2" height="1.2" fill="#2f9a2f"/>
<rect x="161.40" y="283.40" width="1.2" height="1.2" fill="#2f9a2f"/>
<rect x="162.40" y="284.70" width="1.2" height="1.2" fill="#2f9a2f"/>
<rect x="161.20" y="292.90" width="1.2" height="1.2" fill="#2f9a2f"/>
<rect x="162.60" y="294.70" width="1.2" height="1.2" fill="#2f9a2f"/>
<rect x="161.80" y="296.20" width="1.2" height="1.2" fill="#2f9a2f"/>
<rect x="162.20" y="301.90" width="1.2" height="1.2" fill="#2f9a2f"/>
<rect x="161.90" y="304.90" width="1.2" height="1.2" fill="#2f9a2f"/>
<rect x="161.90" y="314.40" width="1.2" height="1.2" fill="#2f9a2f"/>
<rect x="161.40" y="316.90" width="1.2" height="1.2" fill="#2f9a2f"/>
<rect x="162.60" y="318.00" width="1.2" height="1.2" fill="#2f9a2f"/>
<rect x="161.90" y="321.20" width="1.2" height="1.2" fill="#2f9a2f"/>
<rect x="161.40" y="323.20" width="1.2" height="1.2" fill="#2f9a2f"/>
<rect x="162.40" y="324.40" width="1.2" height="1.2" fill="#2f9a2f"/>
<rect x="161.90" y="327.00" width="1.2" height="1.2" fill="#2f9a2f"/>
<rect x="161.90" y="334.90" width="1.2" height="1.2" fill="#2f9a2f"/>
<rect x="161.90" y="340.70" width="1.2" height="1.2" fill="#2f9a2f"/>
<rect x="161.90" y="353.40" width="1.2" height="1.2" fill="#2f9a2f"/>
<rect x="161.90" y="348.20" width="1.2" height="1.2" fill="#2f9a2f"/>
<path d="M184.00,260.60 L182.40,264.00 L181.10,267.40 L182.20,271.00 L183.20,274.50 L183.40,277.90 L182.60,281.00 L181.60,284.10 L183.60,287.00 L185.90,290.00 L186.50,292.20 L185.90,294.50 L183.60,297.00 L181.60,299.60 L183.20,302.00 L185.10,304.50 L186.50,307.00 L174.70,307.00 L176.10,304.50 L178.00,302.00 L179.60,299.60 L177.60,297.00 L175.30,294.50 L174.70,292.20 L175.30,290.00 L177.60,287.00 L179.60,284.10 L178.60,281.00 L177.80,277.90 L178.00,274.50 L179.00,271.00 L180.10,267.40 L178.80,264.00 L177.20,260.60Z" fill="#fdf6f7" stroke="#e87a8e" stroke-width="0.55"/>
<rect x="180.00" y="261.60" width="1.2" height="1.2" fill="#d0203a"/>
<rect x="180.00" y="277.90" width="1.2" height="1.2" fill="#d0203a"/>
<rect x="180.00" y="290.10" width="1.2" height="1.2" fill="#d0203a"/>
<rect x="180.00" y="291.90" width="1.2" height="1.2" fill="#d0203a"/>
<rect x="180.00" y="293.40" width="1.2" height="1.2" fill="#d0203a"/>
<rect x="179.60" y="304.90" width="1.2" height="1.2" fill="#d0203a"/>
<rect x="180.80" y="305.70" width="1.2" height="1.2" fill="#d0203a"/>
<line x1="175.00" y1="292.20" x2="186.20" y2="292.20" stroke="#b0b0b0" stroke-width="0.5"/>
<line x1="239.60" y1="28.90" x2="239.60" y2="120.30" stroke="#cdcdcd" stroke-width="1"/>
<line x1="239.10" y1="119.80" x2="361.40" y2="119.80" stroke="#cdcdcd" stroke-width="1"/>
<line x1="236.60" y1="29.20" x2="239.60" y2="29.20" stroke="#cdcdcd" stroke-width="1"/>
<text x="234.40" y="31.90" font-size="7.6" text-anchor="end" fill="#1a1a1a" stroke="#1a1a1a" stroke-width="0.22">9</text>
<line x1="236.60" y1="51.80" x2="239.60" y2="51.80" stroke="#cdcdcd" stroke-width="1"/>
<text x="234.40" y="54.50" font-size="7.6" text-anchor="end" fill="#1a1a1a" stroke="#1a1a1a" stroke-width="0.22">8</text>
<line x1="236.60" y1="74.40" x2="239.60" y2="74.40" stroke="#cdcdcd" stroke-width="1"/>
<text x="234.40" y="77.10" font-size="7.6" text-anchor="end" fill="#1a1a1a" stroke="#1a1a1a" stroke-width="0.22">7</text>
<line x1="236.60" y1="97.00" x2="239.60" y2="97.00" stroke="#cdcdcd" stroke-width="1"/>
<text x="234.40" y="99.70" font-size="7.6" text-anchor="end" fill="#1a1a1a" stroke="#1a1a1a" stroke-width="0.22">6</text>
<line x1="236.60" y1="119.80" x2="239.60" y2="119.80" stroke="#cdcdcd" stroke-width="1"/>
<text x="234.40" y="122.50" font-size="7.6" text-anchor="end" fill="#1a1a1a" stroke="#1a1a1a" stroke-width="0.22">5</text>
<line x1="253.30" y1="119.80" x2="253.30" y2="122.60" stroke="#cdcdcd" stroke-width="1"/>
<text x="253.30" y="132.30" font-size="7.6" text-anchor="middle" fill="#1a1a1a" stroke="#1a1a1a" stroke-width="0.22">4</text>
<line x1="280.30" y1="119.80" x2="280.30" y2="122.60" stroke="#cdcdcd" stroke-width="1"/>
<text x="280.30" y="132.30" font-size="7.6" text-anchor="middle" fill="#1a1a1a" stroke="#1a1a1a" stroke-width="0.22">6</text>
<line x1="307.20" y1="119.80" x2="307.20" y2="122.60" stroke="#cdcdcd" stroke-width="1"/>
<text x="307.20" y="132.30" font-size="7.6" text-anchor="middle" fill="#1a1a1a" stroke="#1a1a1a" stroke-width="0.22">8</text>
<line x1="334.20" y1="119.80" x2="334.20" y2="122.60" stroke="#cdcdcd" stroke-width="1"/>
<text x="334.20" y="132.30" font-size="7.6" text-anchor="middle" fill="#1a1a1a" stroke="#1a1a1a" stroke-width="0.22">10</text>
<line x1="361.10" y1="119.80" x2="361.10" y2="122.60" stroke="#cdcdcd" stroke-width="1"/>
<text x="361.10" y="132.30" font-size="7.6" text-anchor="middle" fill="#1a1a1a" stroke="#1a1a1a" stroke-width="0.22">12</text>
<text x="222.50" y="74.50" font-size="7.1" text-anchor="middle" fill="#1a1a1a" stroke="#1a1a1a" stroke-width="0.22" transform="rotate(-90 222.50 74.50)">SMARCA4 mRNA expression</text>
<text x="300.50" y="141.70" font-size="7.1" text-anchor="middle" fill="#1a1a1a" stroke="#1a1a1a" stroke-width="0.22">SOX11 mRNA expression</text>
<text x="299.50" y="18.80" font-size="8.5" text-anchor="middle" fill="#1a1a1a" stroke="#1a1a1a" stroke-width="0.22">GSE79196</text>
<text x="242.80" y="35.40" font-size="7.05" text-anchor="start" fill="#1a1a1a" stroke="#1a1a1a" stroke-width="0.22">n = 54</text>
<text x="242.80" y="43.75" font-size="7.05" text-anchor="start" fill="#1a1a1a" stroke="#1a1a1a" stroke-width="0.22">Pearson r = 0.71</text>
<text x="242.80" y="52.10" font-size="7.05" text-anchor="start" fill="#1a1a1a" stroke="#1a1a1a" stroke-width="0.22">p-value = 2.37E-009</text>
<line x1="255.60" y1="83.60" x2="351.50" y2="65.40" stroke="#b9b9b9" stroke-width="0.7"/>
<line x1="236.40" y1="29.20" x2="239.60" y2="29.20" stroke="#9a9a9a" stroke-width="1.3"/>
<circle cx="247.20" cy="82.50" r="3.05" fill="#d7d7d7" stroke="#8f8f8f" stroke-width="0.45"/>
<circle cx="246.50" cy="85.20" r="3.05" fill="#d7d7d7" stroke="#8f8f8f" stroke-width="0.45"/>
<circle cx="247.80" cy="77.60" r="3.05" fill="#d7d7d7" stroke="#8f8f8f" stroke-width="0.45"/>
<circle cx="248.20" cy="79.10" r="3.05" fill="#d7d7d7" stroke="#8f8f8f" stroke-width="0.45"/>
<circle cx="250.40" cy="80.70" r="3.05" fill="#d7d7d7" stroke="#8f8f8f" stroke-width="0.45"/>
<circle cx="247.30" cy="83.20" r="3.05" fill="#d7d7d7" stroke="#8f8f8f" stroke-width="0.45"/>
<circle cx="253.00" cy="83.20" r="3.05" fill="#d7d7d7" stroke="#8f8f8f" stroke-width="0.45"/>
<circle cx="248.30" cy="86.90" r="3.05" fill="#d7d7d7" stroke="#8f8f8f" stroke-width="0.45"/>
<circle cx="252.00" cy="87.40" r="3.05" fill="#d7d7d7" stroke="#8f8f8f" stroke-width="0.45"/>
<circle cx="249.90" cy="91.50" r="3.05" fill="#d7d7d7" stroke="#8f8f8f" stroke-width="0.45"/>
<circle cx="253.00" cy="74.50" r="3.05" fill="#d7d7d7" stroke="#8f8f8f" stroke-width="0.45"/>
<circle cx="254.00" cy="76.30" r="3.05" fill="#d7d7d7" stroke="#8f8f8f" stroke-width="0.45"/>
<circle cx="250.50" cy="75.60" r="3.05" fill="#d7d7d7" stroke="#8f8f8f" stroke-width="0.45"/>
<circle cx="252.00" cy="78.60" r="3.05" fill="#d7d7d7" stroke="#8f8f8f" stroke-width="0.45"/>
<circle cx="249.00" cy="88.80" r="3.05" fill="#d7d7d7" stroke="#8f8f8f" stroke-width="0.45"/>
<circle cx="251.00" cy="84.80" r="3.05" fill="#d7d7d7" stroke="#8f8f8f" stroke-width="0.45"/>
<circle cx="254.20" cy="80.80" r="3.05" fill="#d7d7d7" stroke="#8f8f8f" stroke-width="0.45"/>
<circle cx="259.70" cy="79.10" r="3.05" fill="#d7d7d7" stroke="#8f8f8f" stroke-width="0.45"/>
<circle cx="278.30" cy="81.20" r="3.05" fill="#d7d7d7" stroke="#8f8f8f" stroke-width="0.45"/>
<circle cx="291.20" cy="79.80" r="3.05" fill="#d7d7d7" stroke="#8f8f8f" stroke-width="0.45"/>
<circle cx="268.80" cy="96.00" r="3.05" fill="#d7d7d7" stroke="#8f8f8f" stroke-width="0.45"/>
<circle cx="268.00" cy="101.30" r="3.05" fill="#d7d7d7" stroke="#8f8f8f" stroke-width="0.45"/>
<circle cx="279.60" cy="95.60" r="3.05" fill="#d7d7d7" stroke="#8f8f8f" stroke-width="0.45"/>
<circle cx="306.40" cy="76.30" r="3.05" fill="#d7d7d7" stroke="#8f8f8f" stroke-width="0.45"/>
<circle cx="340.70" cy="44.20" r="3.05" fill="rgba(170,25,110,0.55)" stroke="rgba(60,0,30,0.6)" stroke-width="0.45"/>
<circle cx="323.80" cy="54.60" r="3.05" fill="rgba(170,25,110,0.55)" stroke="rgba(60,0,30,0.6)" stroke-width="0.45"/>
<circle cx="328.40" cy="64.00" r="3.05" fill="rgba(170,25,110,0.55)" stroke="rgba(60,0,30,0.6)" stroke-width="0.45"/>
<circle cx="337.80" cy="61.10" r="3.05" fill="rgba(170,25,110,0.55)" stroke="rgba(60,0,30,0.6)" stroke-width="0.45"/>
<circle cx="342.60" cy="60.70" r="3.05" fill="rgba(170,25,110,0.55)" stroke="rgba(60,0,30,0.6)" stroke-width="0.45"/>
<circle cx="342.90" cy="65.20" r="3.05" fill="rgba(170,25,110,0.55)" stroke="rgba(60,0,30,0.6)" stroke-width="0.45"/>
<circle cx="350.10" cy="65.20" r="3.05" fill="rgba(170,25,110,0.55)" stroke="rgba(60,0,30,0.6)" stroke-width="0.45"/>
<circle cx="348.40" cy="69.10" r="3.05" fill="rgba(170,25,110,0.55)" stroke="rgba(60,0,30,0.6)" stroke-width="0.45"/>
<circle cx="340.70" cy="68.40" r="3.05" fill="rgba(170,25,110,0.55)" stroke="rgba(60,0,30,0.6)" stroke-width="0.45"/>
<circle cx="342.20" cy="72.70" r="3.05" fill="rgba(170,25,110,0.55)" stroke="rgba(60,0,30,0.6)" stroke-width="0.45"/>
<circle cx="324.10" cy="68.40" r="3.05" fill="rgba(170,25,110,0.55)" stroke="rgba(60,0,30,0.6)" stroke-width="0.45"/>
<circle cx="326.20" cy="70.50" r="3.05" fill="rgba(170,25,110,0.55)" stroke="rgba(60,0,30,0.6)" stroke-width="0.45"/>
<circle cx="323.50" cy="72.00" r="3.05" fill="rgba(170,25,110,0.55)" stroke="rgba(60,0,30,0.6)" stroke-width="0.45"/>
<circle cx="329.90" cy="73.40" r="3.05" fill="rgba(170,25,110,0.55)" stroke="rgba(60,0,30,0.6)" stroke-width="0.45"/>
<circle cx="334.20" cy="74.90" r="3.05" fill="rgba(170,25,110,0.55)" stroke="rgba(60,0,30,0.6)" stroke-width="0.45"/>
<circle cx="334.90" cy="76.60" r="3.05" fill="rgba(170,25,110,0.55)" stroke="rgba(60,0,30,0.6)" stroke-width="0.45"/>
<circle cx="318.30" cy="74.10" r="3.05" fill="rgba(170,25,110,0.55)" stroke="rgba(60,0,30,0.6)" stroke-width="0.45"/>
<circle cx="319.00" cy="76.30" r="3.05" fill="rgba(170,25,110,0.55)" stroke="rgba(60,0,30,0.6)" stroke-width="0.45"/>
<circle cx="318.00" cy="79.20" r="3.05" fill="rgba(170,25,110,0.55)" stroke="rgba(60,0,30,0.6)" stroke-width="0.45"/>
<circle cx="322.90" cy="78.50" r="3.05" fill="rgba(170,25,110,0.55)" stroke="rgba(60,0,30,0.6)" stroke-width="0.45"/>
<circle cx="299.80" cy="76.60" r="3.05" fill="rgba(170,25,110,0.55)" stroke="rgba(60,0,30,0.6)" stroke-width="0.45"/>
<circle cx="299.00" cy="82.80" r="3.05" fill="rgba(170,25,110,0.55)" stroke="rgba(60,0,30,0.6)" stroke-width="0.45"/>
<circle cx="327.00" cy="68.00" r="3.05" fill="rgba(170,25,110,0.55)" stroke="rgba(60,0,30,0.6)" stroke-width="0.45"/>
<circle cx="331.50" cy="72.50" r="3.05" fill="rgba(170,25,110,0.55)" stroke="rgba(60,0,30,0.6)" stroke-width="0.45"/>
<circle cx="343.50" cy="66.50" r="3.05" fill="rgba(170,25,110,0.55)" stroke="rgba(60,0,30,0.6)" stroke-width="0.45"/>
<circle cx="325.00" cy="66.00" r="3.05" fill="rgba(170,25,110,0.55)" stroke="rgba(60,0,30,0.6)" stroke-width="0.45"/>
<circle cx="342.30" cy="73.00" r="3.05" fill="rgba(170,25,110,0.55)" stroke="rgba(60,0,30,0.6)" stroke-width="0.45"/>
<circle cx="342.00" cy="64.00" r="3.05" fill="rgba(170,25,110,0.55)" stroke="rgba(60,0,30,0.6)" stroke-width="0.45"/>
<circle cx="322.00" cy="75.00" r="3.05" fill="rgba(170,25,110,0.55)" stroke="rgba(60,0,30,0.6)" stroke-width="0.45"/>
<circle cx="330.50" cy="76.00" r="3.05" fill="rgba(170,25,110,0.55)" stroke="rgba(60,0,30,0.6)" stroke-width="0.45"/>
<line x1="408.50" y1="30.60" x2="408.50" y2="122.70" stroke="#cdcdcd" stroke-width="1"/>
<line x1="412.30" y1="122.20" x2="533.40" y2="122.20" stroke="#cdcdcd" stroke-width="1"/>
<line x1="405.50" y1="30.80" x2="408.50" y2="30.80" stroke="#cdcdcd" stroke-width="1"/>
<text x="403.30" y="33.50" font-size="7.6" text-anchor="end" fill="#1a1a1a" stroke="#1a1a1a" stroke-width="0.22">9.0</text>
<line x1="405.50" y1="49.00" x2="408.50" y2="49.00" stroke="#cdcdcd" stroke-width="1"/>
<text x="403.30" y="51.70" font-size="7.6" text-anchor="end" fill="#1a1a1a" stroke="#1a1a1a" stroke-width="0.22">8.5</text>
<line x1="405.50" y1="67.20" x2="408.50" y2="67.20" stroke="#cdcdcd" stroke-width="1"/>
<text x="403.30" y="69.90" font-size="7.6" text-anchor="end" fill="#1a1a1a" stroke="#1a1a1a" stroke-width="0.22">8.0</text>
<line x1="405.50" y1="85.40" x2="408.50" y2="85.40" stroke="#cdcdcd" stroke-width="1"/>
<text x="403.30" y="88.10" font-size="7.6" text-anchor="end" fill="#1a1a1a" stroke="#1a1a1a" stroke-width="0.22">7.5</text>
<line x1="405.50" y1="103.60" x2="408.50" y2="103.60" stroke="#cdcdcd" stroke-width="1"/>
<text x="403.30" y="106.30" font-size="7.6" text-anchor="end" fill="#1a1a1a" stroke="#1a1a1a" stroke-width="0.22">7.0</text>
<line x1="405.50" y1="122.20" x2="408.50" y2="122.20" stroke="#cdcdcd" stroke-width="1"/>
<text x="403.30" y="124.90" font-size="7.6" text-anchor="end" fill="#1a1a1a" stroke="#1a1a1a" stroke-width="0.22">6.5</text>
<line x1="425.90" y1="122.20" x2="425.90" y2="125.00" stroke="#cdcdcd" stroke-width="1"/>
<text x="425.90" y="134.10" font-size="7.6" text-anchor="middle" fill="#1a1a1a" stroke="#1a1a1a" stroke-width="0.22">4</text>
<line x1="460.60" y1="122.20" x2="460.60" y2="125.00" stroke="#cdcdcd" stroke-width="1"/>
<text x="460.60" y="134.10" font-size="7.6" text-anchor="middle" fill="#1a1a1a" stroke="#1a1a1a" stroke-width="0.22">6</text>
<line x1="495.40" y1="122.20" x2="495.40" y2="125.00" stroke="#cdcdcd" stroke-width="1"/>
<text x="495.40" y="134.10" font-size="7.6" text-anchor="middle" fill="#1a1a1a" stroke="#1a1a1a" stroke-width="0.22">8</text>
<line x1="530.20" y1="122.20" x2="530.20" y2="125.00" stroke="#cdcdcd" stroke-width="1"/>
<text x="530.20" y="134.10" font-size="7.6" text-anchor="middle" fill="#1a1a1a" stroke="#1a1a1a" stroke-width="0.22">10</text>
<text x="386.50" y="76.00" font-size="7.1" text-anchor="middle" fill="#1a1a1a" stroke="#1a1a1a" stroke-width="0.22" transform="rotate(-90 386.50 76.00)">SMARCA4 mRNA expression</text>
<text x="472.70" y="143.50" font-size="7.1" text-anchor="middle" fill="#1a1a1a" stroke="#1a1a1a" stroke-width="0.22">SOX11 mRNA expression</text>
<text x="469.00" y="21.10" font-size="8.5" text-anchor="middle" fill="#1a1a1a" stroke="#1a1a1a" stroke-width="0.22">EGADO00010001842</text>
<text x="412.00" y="37.30" font-size="7.05" text-anchor="start" fill="#1a1a1a" stroke="#1a1a1a" stroke-width="0.22">n = 39</text>
<text x="412.00" y="45.65" font-size="7.05" text-anchor="start" fill="#1a1a1a" stroke="#1a1a1a" stroke-width="0.22">Pearson r = 0.74</text>
<text x="412.00" y="54.00" font-size="7.05" text-anchor="start" fill="#1a1a1a" stroke="#1a1a1a" stroke-width="0.22">p-value = 7.65E-008</text>
<line x1="420.90" y1="102.70" x2="517.80" y2="60.90" stroke="#b9b9b9" stroke-width="0.7"/>
<circle cx="415.80" cy="85.70" r="3.05" fill="#d7d7d7" stroke="#8f8f8f" stroke-width="0.45"/>
<circle cx="415.10" cy="88.00" r="3.05" fill="#d7d7d7" stroke="#8f8f8f" stroke-width="0.45"/>
<circle cx="421.90" cy="89.00" r="3.05" fill="#d7d7d7" stroke="#8f8f8f" stroke-width="0.45"/>
<circle cx="418.30" cy="98.10" r="3.05" fill="#d7d7d7" stroke="#8f8f8f" stroke-width="0.45"/>
<circle cx="418.30" cy="103.90" r="3.05" fill="#d7d7d7" stroke="#8f8f8f" stroke-width="0.45"/>
<circle cx="416.60" cy="114.30" r="3.05" fill="#d7d7d7" stroke="#8f8f8f" stroke-width="0.45"/>
<circle cx="419.50" cy="120.40" r="3.05" fill="#d7d7d7" stroke="#8f8f8f" stroke-width="0.45"/>
<circle cx="427.70" cy="112.10" r="3.05" fill="#d7d7d7" stroke="#8f8f8f" stroke-width="0.45"/>
<circle cx="445.20" cy="92.30" r="3.05" fill="#d7d7d7" stroke="#8f8f8f" stroke-width="0.45"/>
<circle cx="443.30" cy="99.50" r="3.05" fill="#d7d7d7" stroke="#8f8f8f" stroke-width="0.45"/>
<circle cx="454.90" cy="87.80" r="3.05" fill="#d7d7d7" stroke="#8f8f8f" stroke-width="0.45"/>
<circle cx="458.80" cy="87.80" r="3.05" fill="#d7d7d7" stroke="#8f8f8f" stroke-width="0.45"/>
<circle cx="458.50" cy="98.70" r="3.05" fill="#d7d7d7" stroke="#8f8f8f" stroke-width="0.45"/>
<circle cx="456.10" cy="63.20" r="3.05" fill="rgba(170,25,110,0.55)" stroke="rgba(60,0,30,0.6)" stroke-width="0.45"/>
<circle cx="467.50" cy="73.40" r="3.05" fill="rgba(170,25,110,0.55)" stroke="rgba(60,0,30,0.6)" stroke-width="0.45"/>
<circle cx="517.80" cy="36.60" r="3.05" fill="rgba(170,25,110,0.55)" stroke="rgba(60,0,30,0.6)" stroke-width="0.45"/>
<circle cx="498.80" cy="48.20" r="3.05" fill="rgba(170,25,110,0.55)" stroke="rgba(60,0,30,0.6)" stroke-width="0.45"/>
<circle cx="507.10" cy="51.00" r="3.05" fill="rgba(170,25,110,0.55)" stroke="rgba(60,0,30,0.6)" stroke-width="0.45"/>
<circle cx="502.90" cy="55.90" r="3.05" fill="rgba(170,25,110,0.55)" stroke="rgba(60,0,30,0.6)" stroke-width="0.45"/>
<circle cx="517.00" cy="55.30" r="3.05" fill="rgba(170,25,110,0.55)" stroke="rgba(60,0,30,0.6)" stroke-width="0.45"/>
<circle cx="481.00" cy="63.00" r="3.05" fill="rgba(170,25,110,0.55)" stroke="rgba(60,0,30,0.6)" stroke-width="0.45"/>
<circle cx="491.00" cy="61.90" r="3.05" fill="rgba(170,25,110,0.55)" stroke="rgba(60,0,30,0.6)" stroke-width="0.45"/>
<circle cx="481.00" cy="68.50" r="3.05" fill="rgba(170,25,110,0.55)" stroke="rgba(60,0,30,0.6)" stroke-width="0.45"/>
<circle cx="508.40" cy="60.90" r="3.05" fill="rgba(170,25,110,0.55)" stroke="rgba(60,0,30,0.6)" stroke-width="0.45"/>
<circle cx="512.00" cy="64.70" r="3.05" fill="rgba(170,25,110,0.55)" stroke="rgba(60,0,30,0.6)" stroke-width="0.45"/>
<circle cx="503.80" cy="67.10" r="3.05" fill="rgba(170,25,110,0.55)" stroke="rgba(60,0,30,0.6)" stroke-width="0.45"/>
<circle cx="500.40" cy="69.30" r="3.05" fill="rgba(170,25,110,0.55)" stroke="rgba(60,0,30,0.6)" stroke-width="0.45"/>
<circle cx="488.90" cy="73.80" r="3.05" fill="rgba(170,25,110,0.55)" stroke="rgba(60,0,30,0.6)" stroke-width="0.45"/>
<circle cx="491.00" cy="76.60" r="3.05" fill="rgba(170,25,110,0.55)" stroke="rgba(60,0,30,0.6)" stroke-width="0.45"/>
<circle cx="506.60" cy="74.60" r="3.05" fill="rgba(170,25,110,0.55)" stroke="rgba(60,0,30,0.6)" stroke-width="0.45"/>
<circle cx="474.00" cy="83.30" r="3.05" fill="rgba(170,25,110,0.55)" stroke="rgba(60,0,30,0.6)" stroke-width="0.45"/>
<circle cx="484.80" cy="83.70" r="3.05" fill="rgba(170,25,110,0.55)" stroke="rgba(60,0,30,0.6)" stroke-width="0.45"/>
<circle cx="499.60" cy="81.50" r="3.05" fill="rgba(170,25,110,0.55)" stroke="rgba(60,0,30,0.6)" stroke-width="0.45"/>
<circle cx="492.70" cy="88.60" r="3.05" fill="rgba(170,25,110,0.55)" stroke="rgba(60,0,30,0.6)" stroke-width="0.45"/>
<circle cx="499.10" cy="91.90" r="3.05" fill="rgba(170,25,110,0.55)" stroke="rgba(60,0,30,0.6)" stroke-width="0.45"/>
<circle cx="475.70" cy="91.90" r="3.05" fill="rgba(170,25,110,0.55)" stroke="rgba(60,0,30,0.6)" stroke-width="0.45"/>
<circle cx="479.80" cy="92.70" r="3.05" fill="rgba(170,25,110,0.55)" stroke="rgba(60,0,30,0.6)" stroke-width="0.45"/>
<circle cx="469.40" cy="101.00" r="3.05" fill="rgba(170,25,110,0.55)" stroke="rgba(60,0,30,0.6)" stroke-width="0.45"/>
<circle cx="472.40" cy="102.60" r="3.05" fill="rgba(170,25,110,0.55)" stroke="rgba(60,0,30,0.6)" stroke-width="0.45"/>
<line x1="573.80" y1="26.60" x2="573.80" y2="111.70" stroke="#cdcdcd" stroke-width="1"/>
<line x1="573.30" y1="111.20" x2="681.00" y2="111.20" stroke="#cdcdcd" stroke-width="1"/>
<line x1="570.80" y1="27.20" x2="573.80" y2="27.20" stroke="#cdcdcd" stroke-width="1"/>
<text x="569.20" y="29.90" font-size="7.6" text-anchor="end" fill="#1a1a1a" stroke="#1a1a1a" stroke-width="0.22">13.0</text>
<line x1="570.80" y1="43.90" x2="573.80" y2="43.90" stroke="#cdcdcd" stroke-width="1"/>
<text x="569.20" y="46.60" font-size="7.6" text-anchor="end" fill="#1a1a1a" stroke="#1a1a1a" stroke-width="0.22">12.5</text>
<line x1="570.80" y1="60.70" x2="573.80" y2="60.70" stroke="#cdcdcd" stroke-width="1"/>
<text x="569.20" y="63.40" font-size="7.6" text-anchor="end" fill="#1a1a1a" stroke="#1a1a1a" stroke-width="0.22">12.0</text>
<line x1="570.80" y1="77.50" x2="573.80" y2="77.50" stroke="#cdcdcd" stroke-width="1"/>
<text x="569.20" y="80.20" font-size="7.6" text-anchor="end" fill="#1a1a1a" stroke="#1a1a1a" stroke-width="0.22">11.5</text>
<line x1="570.80" y1="94.30" x2="573.80" y2="94.30" stroke="#cdcdcd" stroke-width="1"/>
<text x="569.20" y="97.00" font-size="7.6" text-anchor="end" fill="#1a1a1a" stroke="#1a1a1a" stroke-width="0.22">11.0</text>
<line x1="570.80" y1="111.20" x2="573.80" y2="111.20" stroke="#cdcdcd" stroke-width="1"/>
<text x="569.20" y="113.90" font-size="7.6" text-anchor="end" fill="#1a1a1a" stroke="#1a1a1a" stroke-width="0.22">10.5</text>
<line x1="573.60" y1="111.20" x2="573.60" y2="114.00" stroke="#cdcdcd" stroke-width="1"/>
<text x="573.60" y="122.50" font-size="7.6" text-anchor="middle" fill="#1a1a1a" stroke="#1a1a1a" stroke-width="0.22">0</text>
<line x1="609.30" y1="111.20" x2="609.30" y2="114.00" stroke="#cdcdcd" stroke-width="1"/>
<text x="609.30" y="122.50" font-size="7.6" text-anchor="middle" fill="#1a1a1a" stroke="#1a1a1a" stroke-width="0.22">5</text>
<line x1="645.00" y1="111.20" x2="645.00" y2="114.00" stroke="#cdcdcd" stroke-width="1"/>
<text x="645.00" y="122.50" font-size="7.6" text-anchor="middle" fill="#1a1a1a" stroke="#1a1a1a" stroke-width="0.22">10</text>
<line x1="680.60" y1="111.20" x2="680.60" y2="114.00" stroke="#cdcdcd" stroke-width="1"/>
<text x="680.60" y="122.50" font-size="7.6" text-anchor="middle" fill="#1a1a1a" stroke="#1a1a1a" stroke-width="0.22">15</text>
<text x="548.50" y="66.00" font-size="7.1" text-anchor="middle" fill="#1a1a1a" stroke="#1a1a1a" stroke-width="0.22" transform="rotate(-90 548.50 66.00)">SMARCA4 mRNA expression</text>
<text x="626.50" y="132.50" font-size="7.1" text-anchor="middle" fill="#1a1a1a" stroke="#1a1a1a" stroke-width="0.22">SOX11 mRNA expression</text>
<text x="626.40" y="19.60" font-size="8.5" text-anchor="middle" fill="#1a1a1a" stroke="#1a1a1a" stroke-width="0.22">EGAD00001009422</text>
<text x="578.00" y="31.60" font-size="7.05" text-anchor="start" fill="#1a1a1a" stroke="#1a1a1a" stroke-width="0.22">n = 16</text>
<text x="578.00" y="39.95" font-size="7.05" text-anchor="start" fill="#1a1a1a" stroke="#1a1a1a" stroke-width="0.22">Pearson r = 0.82</text>
<text x="578.00" y="48.30" font-size="7.05" text-anchor="start" fill="#1a1a1a" stroke="#1a1a1a" stroke-width="0.22">p-value = 8.52E-005</text>
<line x1="603.70" y1="96.40" x2="669.50" y2="60.80" stroke="#b9b9b9" stroke-width="0.7"/>
<circle cx="603.50" cy="87.30" r="3.05" fill="#d7d7d7" stroke="#8f8f8f" stroke-width="0.45"/>
<circle cx="612.20" cy="91.90" r="3.05" fill="#d7d7d7" stroke="#8f8f8f" stroke-width="0.45"/>
<circle cx="613.90" cy="95.40" r="3.05" fill="#d7d7d7" stroke="#8f8f8f" stroke-width="0.45"/>
<circle cx="615.90" cy="99.70" r="3.05" fill="#d7d7d7" stroke="#8f8f8f" stroke-width="0.45"/>
<circle cx="626.90" cy="84.40" r="3.05" fill="#d7d7d7" stroke="#8f8f8f" stroke-width="0.45"/>
<circle cx="634.10" cy="82.40" r="3.05" fill="#d7d7d7" stroke="#8f8f8f" stroke-width="0.45"/>
<circle cx="659.30" cy="44.80" r="3.05" fill="rgba(170,25,110,0.55)" stroke="rgba(60,0,30,0.6)" stroke-width="0.45"/>
<circle cx="646.80" cy="65.60" r="3.05" fill="rgba(170,25,110,0.55)" stroke="rgba(60,0,30,0.6)" stroke-width="0.45"/>
<circle cx="653.50" cy="63.00" r="3.05" fill="rgba(170,25,110,0.55)" stroke="rgba(60,0,30,0.6)" stroke-width="0.45"/>
<circle cx="650.00" cy="77.50" r="3.05" fill="rgba(170,25,110,0.55)" stroke="rgba(60,0,30,0.6)" stroke-width="0.45"/>
<circle cx="660.70" cy="64.20" r="3.05" fill="rgba(170,25,110,0.55)" stroke="rgba(60,0,30,0.6)" stroke-width="0.45"/>
<circle cx="663.00" cy="61.30" r="3.05" fill="rgba(170,25,110,0.55)" stroke="rgba(60,0,30,0.6)" stroke-width="0.45"/>
<circle cx="664.20" cy="74.30" r="3.05" fill="rgba(170,25,110,0.55)" stroke="rgba(60,0,30,0.6)" stroke-width="0.45"/>
<circle cx="668.00" cy="76.60" r="3.05" fill="rgba(170,25,110,0.55)" stroke="rgba(60,0,30,0.6)" stroke-width="0.45"/>
<circle cx="670.30" cy="73.70" r="3.05" fill="rgba(170,25,110,0.55)" stroke="rgba(60,0,30,0.6)" stroke-width="0.45"/>
<circle cx="672.90" cy="68.50" r="3.05" fill="rgba(170,25,110,0.55)" stroke="rgba(60,0,30,0.6)" stroke-width="0.45"/>
<line x1="240.20" y1="172.20" x2="240.20" y2="263.90" stroke="#cdcdcd" stroke-width="1"/>
<line x1="239.70" y1="263.40" x2="361.10" y2="263.40" stroke="#cdcdcd" stroke-width="1"/>
<line x1="237.20" y1="172.40" x2="240.20" y2="172.40" stroke="#cdcdcd" stroke-width="1"/>
<text x="235.00" y="175.10" font-size="7.6" text-anchor="end" fill="#1a1a1a" stroke="#1a1a1a" stroke-width="0.22">8.5</text>
<line x1="237.20" y1="195.20" x2="240.20" y2="195.20" stroke="#cdcdcd" stroke-width="1"/>
<text x="235.00" y="197.90" font-size="7.6" text-anchor="end" fill="#1a1a1a" stroke="#1a1a1a" stroke-width="0.22">8.0</text>
<line x1="237.20" y1="218.00" x2="240.20" y2="218.00" stroke="#cdcdcd" stroke-width="1"/>
<text x="235.00" y="220.70" font-size="7.6" text-anchor="end" fill="#1a1a1a" stroke="#1a1a1a" stroke-width="0.22">7.5</text>
<line x1="237.20" y1="240.70" x2="240.20" y2="240.70" stroke="#cdcdcd" stroke-width="1"/>
<text x="235.00" y="243.40" font-size="7.6" text-anchor="end" fill="#1a1a1a" stroke="#1a1a1a" stroke-width="0.22">7.0</text>
<line x1="237.20" y1="263.40" x2="240.20" y2="263.40" stroke="#cdcdcd" stroke-width="1"/>
<text x="235.00" y="266.10" font-size="7.6" text-anchor="end" fill="#1a1a1a" stroke="#1a1a1a" stroke-width="0.22">6.5</text>
<line x1="239.80" y1="263.40" x2="239.80" y2="266.20" stroke="#cdcdcd" stroke-width="1"/>
<text x="239.80" y="275.90" font-size="7.6" text-anchor="middle" fill="#1a1a1a" stroke="#1a1a1a" stroke-width="0.22">7</text>
<line x1="264.10" y1="263.40" x2="264.10" y2="266.20" stroke="#cdcdcd" stroke-width="1"/>
<text x="264.10" y="275.90" font-size="7.6" text-anchor="middle" fill="#1a1a1a" stroke="#1a1a1a" stroke-width="0.22">8</text>
<line x1="288.40" y1="263.40" x2="288.40" y2="266.20" stroke="#cdcdcd" stroke-width="1"/>
<text x="288.40" y="275.90" font-size="7.6" text-anchor="middle" fill="#1a1a1a" stroke="#1a1a1a" stroke-width="0.22">9</text>
<line x1="312.70" y1="263.40" x2="312.70" y2="266.20" stroke="#cdcdcd" stroke-width="1"/>
<text x="312.70" y="275.90" font-size="7.6" text-anchor="middle" fill="#1a1a1a" stroke="#1a1a1a" stroke-width="0.22">10</text>
<line x1="336.90" y1="263.40" x2="336.90" y2="266.20" stroke="#cdcdcd" stroke-width="1"/>
<text x="336.90" y="275.90" font-size="7.6" text-anchor="middle" fill="#1a1a1a" stroke="#1a1a1a" stroke-width="0.22">11</text>
<line x1="361.10" y1="263.40" x2="361.10" y2="266.20" stroke="#cdcdcd" stroke-width="1"/>
<text x="361.10" y="275.90" font-size="7.6" text-anchor="middle" fill="#1a1a1a" stroke="#1a1a1a" stroke-width="0.22">12</text>
<text x="217.60" y="219.00" font-size="7.1" text-anchor="middle" fill="#1a1a1a" stroke="#1a1a1a" stroke-width="0.22" transform="rotate(-90 217.60 219.00)">SMARCA4 mRNA expression</text>
<text x="300.50" y="287.00" font-size="7.1" text-anchor="middle" fill="#1a1a1a" stroke="#1a1a1a" stroke-width="0.22">SOX11 mRNA expression</text>
<text x="299.80" y="166.20" font-size="8.5" text-anchor="middle" fill="#1a1a1a" stroke="#1a1a1a" stroke-width="0.22">GSE79196</text>
<text x="243.60" y="178.20" font-size="7.05" text-anchor="start" fill="#1a1a1a" stroke="#1a1a1a" stroke-width="0.22">n = 30</text>
<text x="243.60" y="186.55" font-size="7.05" text-anchor="start" fill="#1a1a1a" stroke="#1a1a1a" stroke-width="0.22">Pearson r = 0.50</text>
<text x="243.60" y="194.90" font-size="7.05" text-anchor="start" fill="#1a1a1a" stroke="#1a1a1a" stroke-width="0.22">p-value = 0.005</text>
<line x1="249.60" y1="250.60" x2="341.60" y2="220.60" stroke="#b9b9b9" stroke-width="0.7"/>
<circle cx="324.00" cy="180.20" r="3.05" fill="rgba(170,25,110,0.55)" stroke="rgba(60,0,30,0.6)" stroke-width="0.45"/>
<circle cx="293.80" cy="201.10" r="3.05" fill="rgba(170,25,110,0.55)" stroke="rgba(60,0,30,0.6)" stroke-width="0.45"/>
<circle cx="319.30" cy="214.70" r="3.05" fill="rgba(170,25,110,0.55)" stroke="rgba(60,0,30,0.6)" stroke-width="0.45"/>
<circle cx="327.30" cy="214.70" r="3.05" fill="rgba(170,25,110,0.55)" stroke="rgba(60,0,30,0.6)" stroke-width="0.45"/>
<circle cx="302.00" cy="220.20" r="3.05" fill="rgba(170,25,110,0.55)" stroke="rgba(60,0,30,0.6)" stroke-width="0.45"/>
<circle cx="327.70" cy="222.10" r="3.05" fill="rgba(170,25,110,0.55)" stroke="rgba(60,0,30,0.6)" stroke-width="0.45"/>
<circle cx="326.80" cy="221.40" r="3.05" fill="rgba(170,25,110,0.55)" stroke="rgba(60,0,30,0.6)" stroke-width="0.45"/>
<circle cx="333.60" cy="224.00" r="3.05" fill="rgba(170,25,110,0.55)" stroke="rgba(60,0,30,0.6)" stroke-width="0.45"/>
<circle cx="341.10" cy="222.70" r="3.05" fill="rgba(170,25,110,0.55)" stroke="rgba(60,0,30,0.6)" stroke-width="0.45"/>
<circle cx="324.30" cy="229.20" r="3.05" fill="rgba(170,25,110,0.55)" stroke="rgba(60,0,30,0.6)" stroke-width="0.45"/>
<circle cx="337.90" cy="229.90" r="3.05" fill="rgba(170,25,110,0.55)" stroke="rgba(60,0,30,0.6)" stroke-width="0.45"/>
<circle cx="295.70" cy="226.70" r="3.05" fill="rgba(170,25,110,0.55)" stroke="rgba(60,0,30,0.6)" stroke-width="0.45"/>
<circle cx="293.30" cy="229.20" r="3.05" fill="rgba(170,25,110,0.55)" stroke="rgba(60,0,30,0.6)" stroke-width="0.45"/>
<circle cx="299.80" cy="230.50" r="3.05" fill="rgba(170,25,110,0.55)" stroke="rgba(60,0,30,0.6)" stroke-width="0.45"/>
<circle cx="294.20" cy="233.30" r="3.05" fill="rgba(170,25,110,0.55)" stroke="rgba(60,0,30,0.6)" stroke-width="0.45"/>
<circle cx="298.30" cy="235.10" r="3.05" fill="rgba(170,25,110,0.55)" stroke="rgba(60,0,30,0.6)" stroke-width="0.45"/>
<circle cx="297.00" cy="238.30" r="3.05" fill="rgba(170,25,110,0.55)" stroke="rgba(60,0,30,0.6)" stroke-width="0.45"/>
<circle cx="326.70" cy="238.50" r="3.05" fill="rgba(170,25,110,0.55)" stroke="rgba(60,0,30,0.6)" stroke-width="0.45"/>
<circle cx="326.00" cy="237.60" r="3.05" fill="rgba(170,25,110,0.55)" stroke="rgba(60,0,30,0.6)" stroke-width="0.45"/>
<circle cx="309.40" cy="237.90" r="3.05" fill="rgba(170,25,110,0.55)" stroke="rgba(60,0,30,0.6)" stroke-width="0.45"/>
<circle cx="306.30" cy="240.30" r="3.05" fill="rgba(170,25,110,0.55)" stroke="rgba(60,0,30,0.6)" stroke-width="0.45"/>
<circle cx="303.50" cy="241.10" r="3.05" fill="rgba(170,25,110,0.55)" stroke="rgba(60,0,30,0.6)" stroke-width="0.45"/>
<circle cx="313.20" cy="241.60" r="3.05" fill="rgba(170,25,110,0.55)" stroke="rgba(60,0,30,0.6)" stroke-width="0.45"/>
<circle cx="314.10" cy="245.30" r="3.05" fill="rgba(170,25,110,0.55)" stroke="rgba(60,0,30,0.6)" stroke-width="0.45"/>
<circle cx="282.70" cy="240.70" r="3.05" fill="rgba(170,25,110,0.55)" stroke="rgba(60,0,30,0.6)" stroke-width="0.45"/>
<circle cx="286.20" cy="244.40" r="3.05" fill="rgba(170,25,110,0.55)" stroke="rgba(60,0,30,0.6)" stroke-width="0.45"/>
<circle cx="291.80" cy="248.10" r="3.05" fill="rgba(170,25,110,0.55)" stroke="rgba(60,0,30,0.6)" stroke-width="0.45"/>
<circle cx="284.00" cy="249.60" r="3.05" fill="rgba(170,25,110,0.55)" stroke="rgba(60,0,30,0.6)" stroke-width="0.45"/>
<circle cx="251.30" cy="245.20" r="3.05" fill="rgba(170,25,110,0.55)" stroke="rgba(60,0,30,0.6)" stroke-width="0.45"/>
<circle cx="248.90" cy="257.50" r="3.05" fill="rgba(170,25,110,0.55)" stroke="rgba(60,0,30,0.6)" stroke-width="0.45"/>
<line x1="408.00" y1="174.00" x2="408.00" y2="266.20" stroke="#cdcdcd" stroke-width="1"/>
<line x1="407.50" y1="265.70" x2="530.00" y2="265.70" stroke="#cdcdcd" stroke-width="1"/>
<line x1="405.00" y1="174.10" x2="408.00" y2="174.10" stroke="#cdcdcd" stroke-width="1"/>
<text x="402.80" y="176.80" font-size="7.6" text-anchor="end" fill="#1a1a1a" stroke="#1a1a1a" stroke-width="0.22">9.0</text>
<line x1="405.00" y1="192.40" x2="408.00" y2="192.40" stroke="#cdcdcd" stroke-width="1"/>
<text x="402.80" y="195.10" font-size="7.6" text-anchor="end" fill="#1a1a1a" stroke="#1a1a1a" stroke-width="0.22">8.5</text>
<line x1="405.00" y1="210.70" x2="408.00" y2="210.70" stroke="#cdcdcd" stroke-width="1"/>
<text x="402.80" y="213.40" font-size="7.6" text-anchor="end" fill="#1a1a1a" stroke="#1a1a1a" stroke-width="0.22">8.0</text>
<line x1="405.00" y1="229.00" x2="408.00" y2="229.00" stroke="#cdcdcd" stroke-width="1"/>
<text x="402.80" y="231.70" font-size="7.6" text-anchor="end" fill="#1a1a1a" stroke="#1a1a1a" stroke-width="0.22">7.5</text>
<line x1="405.00" y1="247.40" x2="408.00" y2="247.40" stroke="#cdcdcd" stroke-width="1"/>
<text x="402.80" y="250.10" font-size="7.6" text-anchor="end" fill="#1a1a1a" stroke="#1a1a1a" stroke-width="0.22">7.0</text>
<line x1="405.00" y1="265.70" x2="408.00" y2="265.70" stroke="#cdcdcd" stroke-width="1"/>
<text x="402.80" y="268.40" font-size="7.6" text-anchor="end" fill="#1a1a1a" stroke="#1a1a1a" stroke-width="0.22">6.5</text>
<line x1="421.90" y1="265.70" x2="421.90" y2="268.50" stroke="#cdcdcd" stroke-width="1"/>
<text x="421.90" y="278.20" font-size="7.6" text-anchor="middle" fill="#1a1a1a" stroke="#1a1a1a" stroke-width="0.22">6</text>
<line x1="448.70" y1="265.70" x2="448.70" y2="268.50" stroke="#cdcdcd" stroke-width="1"/>
<text x="448.70" y="278.20" font-size="7.6" text-anchor="middle" fill="#1a1a1a" stroke="#1a1a1a" stroke-width="0.22">7</text>
<line x1="475.50" y1="265.70" x2="475.50" y2="268.50" stroke="#cdcdcd" stroke-width="1"/>
<text x="475.50" y="278.20" font-size="7.6" text-anchor="middle" fill="#1a1a1a" stroke="#1a1a1a" stroke-width="0.22">8</text>
<line x1="502.30" y1="265.70" x2="502.30" y2="268.50" stroke="#cdcdcd" stroke-width="1"/>
<text x="502.30" y="278.20" font-size="7.6" text-anchor="middle" fill="#1a1a1a" stroke="#1a1a1a" stroke-width="0.22">9</text>
<line x1="529.40" y1="265.70" x2="529.40" y2="268.50" stroke="#cdcdcd" stroke-width="1"/>
<text x="529.40" y="278.20" font-size="7.6" text-anchor="middle" fill="#1a1a1a" stroke="#1a1a1a" stroke-width="0.22">10</text>
<text x="385.00" y="218.50" font-size="7.1" text-anchor="middle" fill="#1a1a1a" stroke="#1a1a1a" stroke-width="0.22" transform="rotate(-90 385.00 218.50)">SMARCA4 mRNA expression</text>
<text x="469.00" y="287.50" font-size="7.1" text-anchor="middle" fill="#1a1a1a" stroke="#1a1a1a" stroke-width="0.22">SOX11 mRNA expression</text>
<text x="468.30" y="168.00" font-size="8.5" text-anchor="middle" fill="#1a1a1a" stroke="#1a1a1a" stroke-width="0.22">EGADO00010001842</text>
<text x="412.00" y="181.20" font-size="7.05" text-anchor="start" fill="#1a1a1a" stroke="#1a1a1a" stroke-width="0.22">n = 26</text>
<text x="412.00" y="189.55" font-size="7.05" text-anchor="start" fill="#1a1a1a" stroke="#1a1a1a" stroke-width="0.22">Pearson r = 0.56</text>
<text x="412.00" y="197.90" font-size="7.05" text-anchor="start" fill="#1a1a1a" stroke="#1a1a1a" stroke-width="0.22">p-value = 0.0027</text>
<line x1="415.00" y1="236.40" x2="509.60" y2="201.60" stroke="#b9b9b9" stroke-width="0.7"/>
<circle cx="511.20" cy="180.50" r="3.05" fill="rgba(170,25,110,0.55)" stroke="rgba(60,0,30,0.6)" stroke-width="0.45"/>
<circle cx="415.00" cy="206.90" r="3.05" fill="rgba(170,25,110,0.55)" stroke="rgba(60,0,30,0.6)" stroke-width="0.45"/>
<circle cx="481.70" cy="191.90" r="3.05" fill="rgba(170,25,110,0.55)" stroke="rgba(60,0,30,0.6)" stroke-width="0.45"/>
<circle cx="494.00" cy="194.60" r="3.05" fill="rgba(170,25,110,0.55)" stroke="rgba(60,0,30,0.6)" stroke-width="0.45"/>
<circle cx="487.90" cy="199.80" r="3.05" fill="rgba(170,25,110,0.55)" stroke="rgba(60,0,30,0.6)" stroke-width="0.45"/>
<circle cx="509.60" cy="198.60" r="3.05" fill="rgba(170,25,110,0.55)" stroke="rgba(60,0,30,0.6)" stroke-width="0.45"/>
<circle cx="495.90" cy="204.80" r="3.05" fill="rgba(170,25,110,0.55)" stroke="rgba(60,0,30,0.6)" stroke-width="0.45"/>
<circle cx="501.90" cy="208.10" r="3.05" fill="rgba(170,25,110,0.55)" stroke="rgba(60,0,30,0.6)" stroke-width="0.45"/>
<circle cx="469.60" cy="206.00" r="3.05" fill="rgba(170,25,110,0.55)" stroke="rgba(60,0,30,0.6)" stroke-width="0.45"/>
<circle cx="453.60" cy="206.90" r="3.05" fill="rgba(170,25,110,0.55)" stroke="rgba(60,0,30,0.6)" stroke-width="0.45"/>
<circle cx="453.30" cy="212.10" r="3.05" fill="rgba(170,25,110,0.55)" stroke="rgba(60,0,30,0.6)" stroke-width="0.45"/>
<circle cx="488.40" cy="210.90" r="3.05" fill="rgba(170,25,110,0.55)" stroke="rgba(60,0,30,0.6)" stroke-width="0.45"/>
<circle cx="483.70" cy="213.00" r="3.05" fill="rgba(170,25,110,0.55)" stroke="rgba(60,0,30,0.6)" stroke-width="0.45"/>
<circle cx="432.70" cy="216.90" r="3.05" fill="rgba(170,25,110,0.55)" stroke="rgba(60,0,30,0.6)" stroke-width="0.45"/>
<circle cx="465.90" cy="217.40" r="3.05" fill="rgba(170,25,110,0.55)" stroke="rgba(60,0,30,0.6)" stroke-width="0.45"/>
<circle cx="469.40" cy="220.60" r="3.05" fill="rgba(170,25,110,0.55)" stroke="rgba(60,0,30,0.6)" stroke-width="0.45"/>
<circle cx="493.10" cy="218.30" r="3.05" fill="rgba(170,25,110,0.55)" stroke="rgba(60,0,30,0.6)" stroke-width="0.45"/>
<circle cx="482.60" cy="225.00" r="3.05" fill="rgba(170,25,110,0.55)" stroke="rgba(60,0,30,0.6)" stroke-width="0.45"/>
<circle cx="442.70" cy="227.10" r="3.05" fill="rgba(170,25,110,0.55)" stroke="rgba(60,0,30,0.6)" stroke-width="0.45"/>
<circle cx="459.40" cy="227.60" r="3.05" fill="rgba(170,25,110,0.55)" stroke="rgba(60,0,30,0.6)" stroke-width="0.45"/>
<circle cx="472.10" cy="232.70" r="3.05" fill="rgba(170,25,110,0.55)" stroke="rgba(60,0,30,0.6)" stroke-width="0.45"/>
<circle cx="445.40" cy="235.80" r="3.05" fill="rgba(170,25,110,0.55)" stroke="rgba(60,0,30,0.6)" stroke-width="0.45"/>
<circle cx="451.90" cy="236.40" r="3.05" fill="rgba(170,25,110,0.55)" stroke="rgba(60,0,30,0.6)" stroke-width="0.45"/>
<circle cx="481.70" cy="235.80" r="3.05" fill="rgba(170,25,110,0.55)" stroke="rgba(60,0,30,0.6)" stroke-width="0.45"/>
<circle cx="435.70" cy="244.60" r="3.05" fill="rgba(170,25,110,0.55)" stroke="rgba(60,0,30,0.6)" stroke-width="0.45"/>
<circle cx="440.10" cy="246.70" r="3.05" fill="rgba(170,25,110,0.55)" stroke="rgba(60,0,30,0.6)" stroke-width="0.45"/>
<line x1="264.30" y1="333.00" x2="264.30" y2="441.40" stroke="#4a4a4a" stroke-width="0.8"/>
<line x1="264.30" y1="441.40" x2="401.60" y2="441.40" stroke="#4a4a4a" stroke-width="0.8"/>
<text x="261.10" y="340.00" font-size="6.8" text-anchor="end" fill="#333" stroke="#333" stroke-width="0.22">1.00</text>
<line x1="262.10" y1="362.90" x2="264.30" y2="362.90" stroke="#4a4a4a" stroke-width="0.8"/>
<text x="261.10" y="365.30" font-size="6.8" text-anchor="end" fill="#333" stroke="#333" stroke-width="0.22">0.75</text>
<line x1="262.10" y1="387.40" x2="264.30" y2="387.40" stroke="#4a4a4a" stroke-width="0.8"/>
<text x="261.10" y="389.80" font-size="6.8" text-anchor="end" fill="#333" stroke="#333" stroke-width="0.22">0.50</text>
<line x1="262.10" y1="411.90" x2="264.30" y2="411.90" stroke="#4a4a4a" stroke-width="0.8"/>
<text x="261.10" y="414.30" font-size="6.8" text-anchor="end" fill="#333" stroke="#333" stroke-width="0.22">0.25</text>
<line x1="262.10" y1="436.40" x2="264.30" y2="436.40" stroke="#4a4a4a" stroke-width="0.8"/>
<text x="261.10" y="438.80" font-size="6.8" text-anchor="end" fill="#333" stroke="#333" stroke-width="0.22">0.00</text>
<line x1="270.40" y1="441.40" x2="270.40" y2="443.60" stroke="#4a4a4a" stroke-width="0.8"/>
<text x="270.40" y="449.60" font-size="6.8" text-anchor="middle" fill="#333" stroke="#333" stroke-width="0.22">0</text>
<line x1="287.00" y1="441.40" x2="287.00" y2="443.60" stroke="#4a4a4a" stroke-width="0.8"/>
<text x="287.00" y="449.60" font-size="6.8" text-anchor="middle" fill="#333" stroke="#333" stroke-width="0.22">2</text>
<line x1="303.60" y1="441.40" x2="303.60" y2="443.60" stroke="#4a4a4a" stroke-width="0.8"/>
<text x="303.60" y="449.60" font-size="6.8" text-anchor="middle" fill="#333" stroke="#333" stroke-width="0.22">4</text>
<line x1="320.20" y1="441.40" x2="320.20" y2="443.60" stroke="#4a4a4a" stroke-width="0.8"/>
<text x="320.20" y="449.60" font-size="6.8" text-anchor="middle" fill="#333" stroke="#333" stroke-width="0.22">6</text>
<line x1="336.80" y1="441.40" x2="336.80" y2="443.60" stroke="#4a4a4a" stroke-width="0.8"/>
<text x="336.80" y="449.60" font-size="6.8" text-anchor="middle" fill="#333" stroke="#333" stroke-width="0.22">8</text>
<line x1="353.40" y1="441.40" x2="353.40" y2="443.60" stroke="#4a4a4a" stroke-width="0.8"/>
<text x="353.40" y="449.60" font-size="6.8" text-anchor="middle" fill="#333" stroke="#333" stroke-width="0.22">10</text>
<line x1="370.00" y1="441.40" x2="370.00" y2="443.60" stroke="#4a4a4a" stroke-width="0.8"/>
<text x="370.00" y="449.60" font-size="6.8" text-anchor="middle" fill="#333" stroke="#333" stroke-width="0.22">12</text>
<line x1="386.60" y1="441.40" x2="386.60" y2="443.60" stroke="#4a4a4a" stroke-width="0.8"/>
<text x="386.60" y="449.60" font-size="6.8" text-anchor="middle" fill="#333" stroke="#333" stroke-width="0.22">14</text>
<line x1="278.70" y1="441.40" x2="278.70" y2="442.80" stroke="#4a4a4a" stroke-width="0.6"/>
<line x1="295.30" y1="441.40" x2="295.30" y2="442.80" stroke="#4a4a4a" stroke-width="0.6"/>
<line x1="311.90" y1="441.40" x2="311.90" y2="442.80" stroke="#4a4a4a" stroke-width="0.6"/>
<line x1="328.50" y1="441.40" x2="328.50" y2="442.80" stroke="#4a4a4a" stroke-width="0.6"/>
<line x1="345.10" y1="441.40" x2="345.10" y2="442.80" stroke="#4a4a4a" stroke-width="0.6"/>
<line x1="361.70" y1="441.40" x2="361.70" y2="442.80" stroke="#4a4a4a" stroke-width="0.6"/>
<line x1="378.30" y1="441.40" x2="378.30" y2="442.80" stroke="#4a4a4a" stroke-width="0.6"/>
<line x1="394.90" y1="441.40" x2="394.90" y2="442.80" stroke="#4a4a4a" stroke-width="0.6"/>
<text x="243.20" y="382.00" font-size="7.1" text-anchor="middle" fill="#1a1a1a" stroke="#1a1a1a" stroke-width="0.22" transform="rotate(-90 243.20 382.00)">Probability</text>
<text x="337.80" y="460.20" font-size="7.1" text-anchor="middle" fill="#1a1a1a" stroke="#1a1a1a" stroke-width="0.22">OS (years)</text>
<circle cx="249.7" cy="331.4" r="0.45" fill="#777"/>
<text x="315.40" y="344.80" font-size="7.1" text-anchor="start" fill="#1a1a1a" stroke="#1a1a1a" stroke-width="0.22">SMARCA4 mRNA expression</text>
<rect x="315.90" y="349.20" width="7.2" height="3.0" fill="#a3214d"/>
<text x="327.20" y="353.60" font-size="7.1" text-anchor="start" fill="#1a1a1a" stroke="#1a1a1a" stroke-width="0.22">High</text>
<rect x="315.90" y="358.40" width="7.2" height="3.0" fill="#dc9cb4"/>
<text x="327.20" y="362.40" font-size="7.1" text-anchor="start" fill="#1a1a1a" stroke="#1a1a1a" stroke-width="0.22">Low</text>
<polyline points="270.10,338.30 272.30,338.30 272.30,342.30 273.90,342.30 273.90,347.50 275.40,347.50 275.40,352.70 276.00,352.70 276.00,357.30 288.70,357.30 288.70,365.40 301.40,365.40 301.40,376.90 315.60,376.90 315.60,392.00 385.00,392.00 385.00,392.00" stroke="#dc9cb4" stroke-width="1.3" fill="none" stroke-linejoin="miter" stroke-linecap="butt"/>
<line x1="270.80" y1="336.50" x2="270.80" y2="340.10" stroke="#dc9cb4" stroke-width="0.7"/>
<line x1="273.00" y1="340.50" x2="273.00" y2="344.10" stroke="#dc9cb4" stroke-width="0.7"/>
<line x1="279.00" y1="355.50" x2="279.00" y2="359.10" stroke="#dc9cb4" stroke-width="0.7"/>
<line x1="282.70" y1="355.50" x2="282.70" y2="359.10" stroke="#dc9cb4" stroke-width="0.7"/>
<line x1="285.20" y1="355.50" x2="285.20" y2="359.10" stroke="#dc9cb4" stroke-width="0.7"/>
<line x1="292.00" y1="363.60" x2="292.00" y2="367.20" stroke="#dc9cb4" stroke-width="0.7"/>
<line x1="296.60" y1="363.60" x2="296.60" y2="367.20" stroke="#dc9cb4" stroke-width="0.7"/>
<line x1="313.60" y1="375.10" x2="313.60" y2="378.70" stroke="#dc9cb4" stroke-width="0.7"/>
<line x1="324.50" y1="390.20" x2="324.50" y2="393.80" stroke="#dc9cb4" stroke-width="0.7"/>
<line x1="371.80" y1="390.20" x2="371.80" y2="393.80" stroke="#dc9cb4" stroke-width="0.7"/>
<line x1="385.00" y1="390.20" x2="385.00" y2="393.80" stroke="#dc9cb4" stroke-width="0.7"/>
<polyline points="269.70,338.30 272.30,338.30 272.30,355.20 275.40,355.20 275.40,362.00 276.00,362.00 276.00,370.00 277.00,370.00 277.00,378.60 279.60,378.60 279.60,385.60 281.20,385.60 281.20,393.00 283.60,393.00 283.60,400.20 293.10,400.20 293.10,412.20 294.30,412.20 294.30,424.60 305.40,424.60 305.40,424.60" stroke="#a3214d" stroke-width="1.3" fill="none" stroke-linejoin="miter" stroke-linecap="butt"/>
<line x1="270.40" y1="336.50" x2="270.40" y2="340.10" stroke="#a3214d" stroke-width="0.7"/>
<line x1="278.00" y1="376.80" x2="278.00" y2="380.40" stroke="#a3214d" stroke-width="0.7"/>
<line x1="289.00" y1="398.40" x2="289.00" y2="402.00" stroke="#a3214d" stroke-width="0.7"/>
<line x1="290.40" y1="398.40" x2="290.40" y2="402.00" stroke="#a3214d" stroke-width="0.7"/>
<line x1="303.80" y1="422.80" x2="303.80" y2="426.40" stroke="#a3214d" stroke-width="0.7"/>
<text x="327.20" y="412.40" font-size="7.1" text-anchor="start" fill="#1a1a1a" stroke="#1a1a1a" stroke-width="0.22">Cox model (continuous)</text>
<text x="327.20" y="420.85" font-size="7.1" text-anchor="start" fill="#1a1a1a" stroke="#1a1a1a" stroke-width="0.22">HR (per unit) = 7.08</text>
<text x="327.20" y="429.30" font-size="7.1" text-anchor="start" fill="#1a1a1a" stroke="#1a1a1a" stroke-width="0.22">95% CI = [2.52 - 19.77]</text>
<text x="327.20" y="437.75" font-size="7.1" text-anchor="start" fill="#1a1a1a" stroke="#1a1a1a" stroke-width="0.22">p-value = 0.0002</text>
<text x="263.50" y="465.80" font-size="7.1" text-anchor="start" fill="#1a1a1a" stroke="#1a1a1a" stroke-width="0.22">No. at risk:</text>
<rect x="253.1" y="470.3" width="8.0" height="2.6" fill="#a3214d"/>
<rect x="253.1" y="478.5" width="8.0" height="2.6" fill="#dc9cb4"/>
<text x="269.50" y="473.90" font-size="7.1" text-anchor="middle" fill="#1a1a1a" stroke="#1a1a1a" stroke-width="0.22">18</text>
<text x="277.76" y="473.90" font-size="7.1" text-anchor="middle" fill="#1a1a1a" stroke="#1a1a1a" stroke-width="0.22">8</text>
<text x="286.02" y="473.90" font-size="7.1" text-anchor="middle" fill="#1a1a1a" stroke="#1a1a1a" stroke-width="0.22">5</text>
<text x="294.28" y="473.90" font-size="7.1" text-anchor="middle" fill="#1a1a1a" stroke="#1a1a1a" stroke-width="0.22">1</text>
<text x="302.54" y="473.90" font-size="7.1" text-anchor="middle" fill="#1a1a1a" stroke="#1a1a1a" stroke-width="0.22">0</text>
<text x="310.80" y="473.90" font-size="7.1" text-anchor="middle" fill="#1a1a1a" stroke="#1a1a1a" stroke-width="0.22">0</text>
<text x="319.06" y="473.90" font-size="7.1" text-anchor="middle" fill="#1a1a1a" stroke="#1a1a1a" stroke-width="0.22">0</text>
<text x="327.32" y="473.90" font-size="7.1" text-anchor="middle" fill="#1a1a1a" stroke="#1a1a1a" stroke-width="0.22">0</text>
<text x="335.58" y="473.90" font-size="7.1" text-anchor="middle" fill="#1a1a1a" stroke="#1a1a1a" stroke-width="0.22">0</text>
<text x="343.84" y="473.90" font-size="7.1" text-anchor="middle" fill="#1a1a1a" stroke="#1a1a1a" stroke-width="0.22">0</text>
<text x="352.10" y="473.90" font-size="7.1" text-anchor="middle" fill="#1a1a1a" stroke="#1a1a1a" stroke-width="0.22">0</text>
<text x="360.36" y="473.90" font-size="7.1" text-anchor="middle" fill="#1a1a1a" stroke="#1a1a1a" stroke-width="0.22">0</text>
<text x="368.62" y="473.90" font-size="7.1" text-anchor="middle" fill="#1a1a1a" stroke="#1a1a1a" stroke-width="0.22">0</text>
<text x="376.88" y="473.90" font-size="7.1" text-anchor="middle" fill="#1a1a1a" stroke="#1a1a1a" stroke-width="0.22">0</text>
<text x="385.14" y="473.90" font-size="7.1" text-anchor="middle" fill="#1a1a1a" stroke="#1a1a1a" stroke-width="0.22">0</text>
<text x="393.40" y="473.90" font-size="7.1" text-anchor="middle" fill="#1a1a1a" stroke="#1a1a1a" stroke-width="0.22">0</text>
<text x="269.50" y="482.40" font-size="7.1" text-anchor="middle" fill="#1a1a1a" stroke="#1a1a1a" stroke-width="0.22">22</text>
<text x="277.76" y="482.40" font-size="7.1" text-anchor="middle" fill="#1a1a1a" stroke="#1a1a1a" stroke-width="0.22">15</text>
<text x="286.02" y="482.40" font-size="7.1" text-anchor="middle" fill="#1a1a1a" stroke="#1a1a1a" stroke-width="0.22">10</text>
<text x="294.28" y="482.40" font-size="7.1" text-anchor="middle" fill="#1a1a1a" stroke="#1a1a1a" stroke-width="0.22">6</text>
<text x="302.54" y="482.40" font-size="7.1" text-anchor="middle" fill="#1a1a1a" stroke="#1a1a1a" stroke-width="0.22">5</text>
<text x="310.80" y="482.40" font-size="7.1" text-anchor="middle" fill="#1a1a1a" stroke="#1a1a1a" stroke-width="0.22">4</text>
<text x="319.06" y="482.40" font-size="7.1" text-anchor="middle" fill="#1a1a1a" stroke="#1a1a1a" stroke-width="0.22">3</text>
<text x="327.32" y="482.40" font-size="7.1" text-anchor="middle" fill="#1a1a1a" stroke="#1a1a1a" stroke-width="0.22">2</text>
<text x="335.58" y="482.40" font-size="7.1" text-anchor="middle" fill="#1a1a1a" stroke="#1a1a1a" stroke-width="0.22">2</text>
<text x="343.84" y="482.40" font-size="7.1" text-anchor="middle" fill="#1a1a1a" stroke="#1a1a1a" stroke-width="0.22">2</text>
<text x="352.10" y="482.40" font-size="7.1" text-anchor="middle" fill="#1a1a1a" stroke="#1a1a1a" stroke-width="0.22">2</text>
<text x="360.36" y="482.40" font-size="7.1" text-anchor="middle" fill="#1a1a1a" stroke="#1a1a1a" stroke-width="0.22">2</text>
<text x="368.62" y="482.40" font-size="7.1" text-anchor="middle" fill="#1a1a1a" stroke="#1a1a1a" stroke-width="0.22">2</text>
<text x="376.88" y="482.40" font-size="7.1" text-anchor="middle" fill="#1a1a1a" stroke="#1a1a1a" stroke-width="0.22">1</text>
<text x="385.14" y="482.40" font-size="7.1" text-anchor="middle" fill="#1a1a1a" stroke="#1a1a1a" stroke-width="0.22">0</text>
<text x="393.40" y="482.40" font-size="7.1" text-anchor="middle" fill="#1a1a1a" stroke="#1a1a1a" stroke-width="0.22">0</text>
<line x1="470.80" y1="333.90" x2="470.80" y2="441.90" stroke="#4a4a4a" stroke-width="0.8"/>
<line x1="470.80" y1="441.90" x2="607.80" y2="441.90" stroke="#4a4a4a" stroke-width="0.8"/>
<line x1="468.60" y1="339.50" x2="470.80" y2="339.50" stroke="#4a4a4a" stroke-width="0.8"/>
<text x="467.60" y="341.90" font-size="6.8" text-anchor="end" fill="#333" stroke="#333" stroke-width="0.22">1.00</text>
<line x1="468.60" y1="363.85" x2="470.80" y2="363.85" stroke="#4a4a4a" stroke-width="0.8"/>
<text x="467.60" y="366.25" font-size="6.8" text-anchor="end" fill="#333" stroke="#333" stroke-width="0.22">0.75</text>
<line x1="468.60" y1="388.20" x2="470.80" y2="388.20" stroke="#4a4a4a" stroke-width="0.8"/>
<text x="467.60" y="390.60" font-size="6.8" text-anchor="end" fill="#333" stroke="#333" stroke-width="0.22">0.50</text>
<line x1="468.60" y1="412.55" x2="470.80" y2="412.55" stroke="#4a4a4a" stroke-width="0.8"/>
<text x="467.60" y="414.95" font-size="6.8" text-anchor="end" fill="#333" stroke="#333" stroke-width="0.22">0.25</text>
<line x1="468.60" y1="436.90" x2="470.80" y2="436.90" stroke="#4a4a4a" stroke-width="0.8"/>
<text x="467.60" y="439.30" font-size="6.8" text-anchor="end" fill="#333" stroke="#333" stroke-width="0.22">0.00</text>
<line x1="476.90" y1="441.90" x2="476.90" y2="444.10" stroke="#4a4a4a" stroke-width="0.8"/>
<text x="476.90" y="450.10" font-size="6.8" text-anchor="middle" fill="#333" stroke="#333" stroke-width="0.22">0</text>
<line x1="501.75" y1="441.90" x2="501.75" y2="444.10" stroke="#4a4a4a" stroke-width="0.8"/>
<text x="501.75" y="450.10" font-size="6.8" text-anchor="middle" fill="#333" stroke="#333" stroke-width="0.22">1</text>
<line x1="526.60" y1="441.90" x2="526.60" y2="444.10" stroke="#4a4a4a" stroke-width="0.8"/>
<text x="526.60" y="450.10" font-size="6.8" text-anchor="middle" fill="#333" stroke="#333" stroke-width="0.22">2</text>
<line x1="551.45" y1="441.90" x2="551.45" y2="444.10" stroke="#4a4a4a" stroke-width="0.8"/>
<text x="551.45" y="450.10" font-size="6.8" text-anchor="middle" fill="#333" stroke="#333" stroke-width="0.22">3</text>
<line x1="576.30" y1="441.90" x2="576.30" y2="444.10" stroke="#4a4a4a" stroke-width="0.8"/>
<text x="576.30" y="450.10" font-size="6.8" text-anchor="middle" fill="#333" stroke="#333" stroke-width="0.22">4</text>
<line x1="601.15" y1="441.90" x2="601.15" y2="444.10" stroke="#4a4a4a" stroke-width="0.8"/>
<text x="601.15" y="450.10" font-size="6.8" text-anchor="middle" fill="#333" stroke="#333" stroke-width="0.22">5</text>
<line x1="489.32" y1="441.90" x2="489.32" y2="443.30" stroke="#4a4a4a" stroke-width="0.6"/>
<line x1="514.17" y1="441.90" x2="514.17" y2="443.30" stroke="#4a4a4a" stroke-width="0.6"/>
<line x1="539.02" y1="441.90" x2="539.02" y2="443.30" stroke="#4a4a4a" stroke-width="0.6"/>
<line x1="563.88" y1="441.90" x2="563.88" y2="443.30" stroke="#4a4a4a" stroke-width="0.6"/>
<line x1="588.73" y1="441.90" x2="588.73" y2="443.30" stroke="#4a4a4a" stroke-width="0.6"/>
<text x="449.10" y="385.50" font-size="7.1" text-anchor="middle" fill="#1a1a1a" stroke="#1a1a1a" stroke-width="0.22" transform="rotate(-90 449.10 385.50)">Probability</text>
<text x="544.00" y="459.20" font-size="7.1" text-anchor="middle" fill="#1a1a1a" stroke="#1a1a1a" stroke-width="0.22">OS (years)</text>
<text x="519.90" y="345.00" font-size="7.1" text-anchor="start" fill="#1a1a1a" stroke="#1a1a1a" stroke-width="0.22">SMARCA4 mRNA expression</text>
<rect x="520.40" y="349.40" width="7.2" height="3.0" fill="#a3214d"/>
<text x="531.70" y="353.80" font-size="7.1" text-anchor="start" fill="#1a1a1a" stroke="#1a1a1a" stroke-width="0.22">High</text>
<rect x="520.40" y="358.60" width="7.2" height="3.0" fill="#dc9cb4"/>
<text x="531.70" y="362.60" font-size="7.1" text-anchor="start" fill="#1a1a1a" stroke="#1a1a1a" stroke-width="0.22">Low</text>
<polyline points="476.60,339.50 489.50,339.50 489.50,344.70 492.30,344.70 492.30,356.10 493.50,356.10 493.50,367.50 505.40,367.50 505.40,374.00 509.00,374.00 509.00,381.10 515.60,381.10 515.60,391.30 542.20,391.30 542.20,406.50 545.30,406.50 545.30,421.50 576.90,421.50 576.90,421.50" stroke="#dc9cb4" stroke-width="1.3" fill="none" stroke-linejoin="miter" stroke-linecap="butt"/>
<line x1="478.10" y1="337.70" x2="478.10" y2="341.30" stroke="#dc9cb4" stroke-width="0.7"/>
<line x1="481.60" y1="337.70" x2="481.60" y2="341.30" stroke="#dc9cb4" stroke-width="0.7"/>
<line x1="501.80" y1="365.70" x2="501.80" y2="369.30" stroke="#dc9cb4" stroke-width="0.7"/>
<line x1="513.70" y1="379.30" x2="513.70" y2="382.90" stroke="#dc9cb4" stroke-width="0.7"/>
<line x1="533.40" y1="389.50" x2="533.40" y2="393.10" stroke="#dc9cb4" stroke-width="0.7"/>
<line x1="537.50" y1="389.50" x2="537.50" y2="393.10" stroke="#dc9cb4" stroke-width="0.7"/>
<line x1="576.90" y1="419.70" x2="576.90" y2="423.30" stroke="#dc9cb4" stroke-width="0.7"/>
<polyline points="476.60,339.50 477.40,339.50 477.40,363.70 479.70,363.70 479.70,388.20 481.20,388.20 481.20,412.70 490.40,412.70 490.40,436.90" stroke="#a3214d" stroke-width="1.3" fill="none" stroke-linejoin="miter" stroke-linecap="butt"/>
<text x="581.00" y="413.00" font-size="7.1" text-anchor="start" fill="#1a1a1a" stroke="#1a1a1a" stroke-width="0.22">Cox model (continuous)</text>
<text x="581.00" y="421.45" font-size="7.1" text-anchor="start" fill="#1a1a1a" stroke="#1a1a1a" stroke-width="0.22">HR (per unit) = 5.45</text>
<text x="581.00" y="429.90" font-size="7.1" text-anchor="start" fill="#1a1a1a" stroke="#1a1a1a" stroke-width="0.22">95% CI = [1.27 - 23.34]</text>
<text x="581.00" y="438.35" font-size="7.1" text-anchor="start" fill="#1a1a1a" stroke="#1a1a1a" stroke-width="0.22">p-value = 0.0224</text>
<text x="469.40" y="466.00" font-size="7.1" text-anchor="start" fill="#1a1a1a" stroke="#1a1a1a" stroke-width="0.22">No. at risk:</text>
<rect x="461.5" y="470.4" width="7.0" height="2.6" fill="#a3214d"/>
<rect x="461.5" y="478.6" width="7.0" height="2.6" fill="#dc9cb4"/>
<text x="475.20" y="474.00" font-size="7.1" text-anchor="middle" fill="#1a1a1a" stroke="#1a1a1a" stroke-width="0.22">5</text>
<text x="500.00" y="474.00" font-size="7.1" text-anchor="middle" fill="#1a1a1a" stroke="#1a1a1a" stroke-width="0.22">0</text>
<text x="524.80" y="474.00" font-size="7.1" text-anchor="middle" fill="#1a1a1a" stroke="#1a1a1a" stroke-width="0.22">0</text>
<text x="549.60" y="474.00" font-size="7.1" text-anchor="middle" fill="#1a1a1a" stroke="#1a1a1a" stroke-width="0.22">0</text>
<text x="574.40" y="474.00" font-size="7.1" text-anchor="middle" fill="#1a1a1a" stroke="#1a1a1a" stroke-width="0.22">0</text>
<text x="599.20" y="474.00" font-size="7.1" text-anchor="middle" fill="#1a1a1a" stroke="#1a1a1a" stroke-width="0.22">0</text>
<text x="475.50" y="482.50" font-size="7.1" text-anchor="middle" fill="#1a1a1a" stroke="#1a1a1a" stroke-width="0.22">18</text>
<text x="500.30" y="482.50" font-size="7.1" text-anchor="middle" fill="#1a1a1a" stroke="#1a1a1a" stroke-width="0.22">10</text>
<text x="525.10" y="482.50" font-size="7.1" text-anchor="middle" fill="#1a1a1a" stroke="#1a1a1a" stroke-width="0.22">5</text>
<text x="549.90" y="482.50" font-size="7.1" text-anchor="middle" fill="#1a1a1a" stroke="#1a1a1a" stroke-width="0.22">1</text>
<text x="574.70" y="482.50" font-size="7.1" text-anchor="middle" fill="#1a1a1a" stroke="#1a1a1a" stroke-width="0.22">0</text>
<text x="599.50" y="482.50" font-size="7.1" text-anchor="middle" fill="#1a1a1a" stroke="#1a1a1a" stroke-width="0.22">0</text>
</svg>
</body></html>
